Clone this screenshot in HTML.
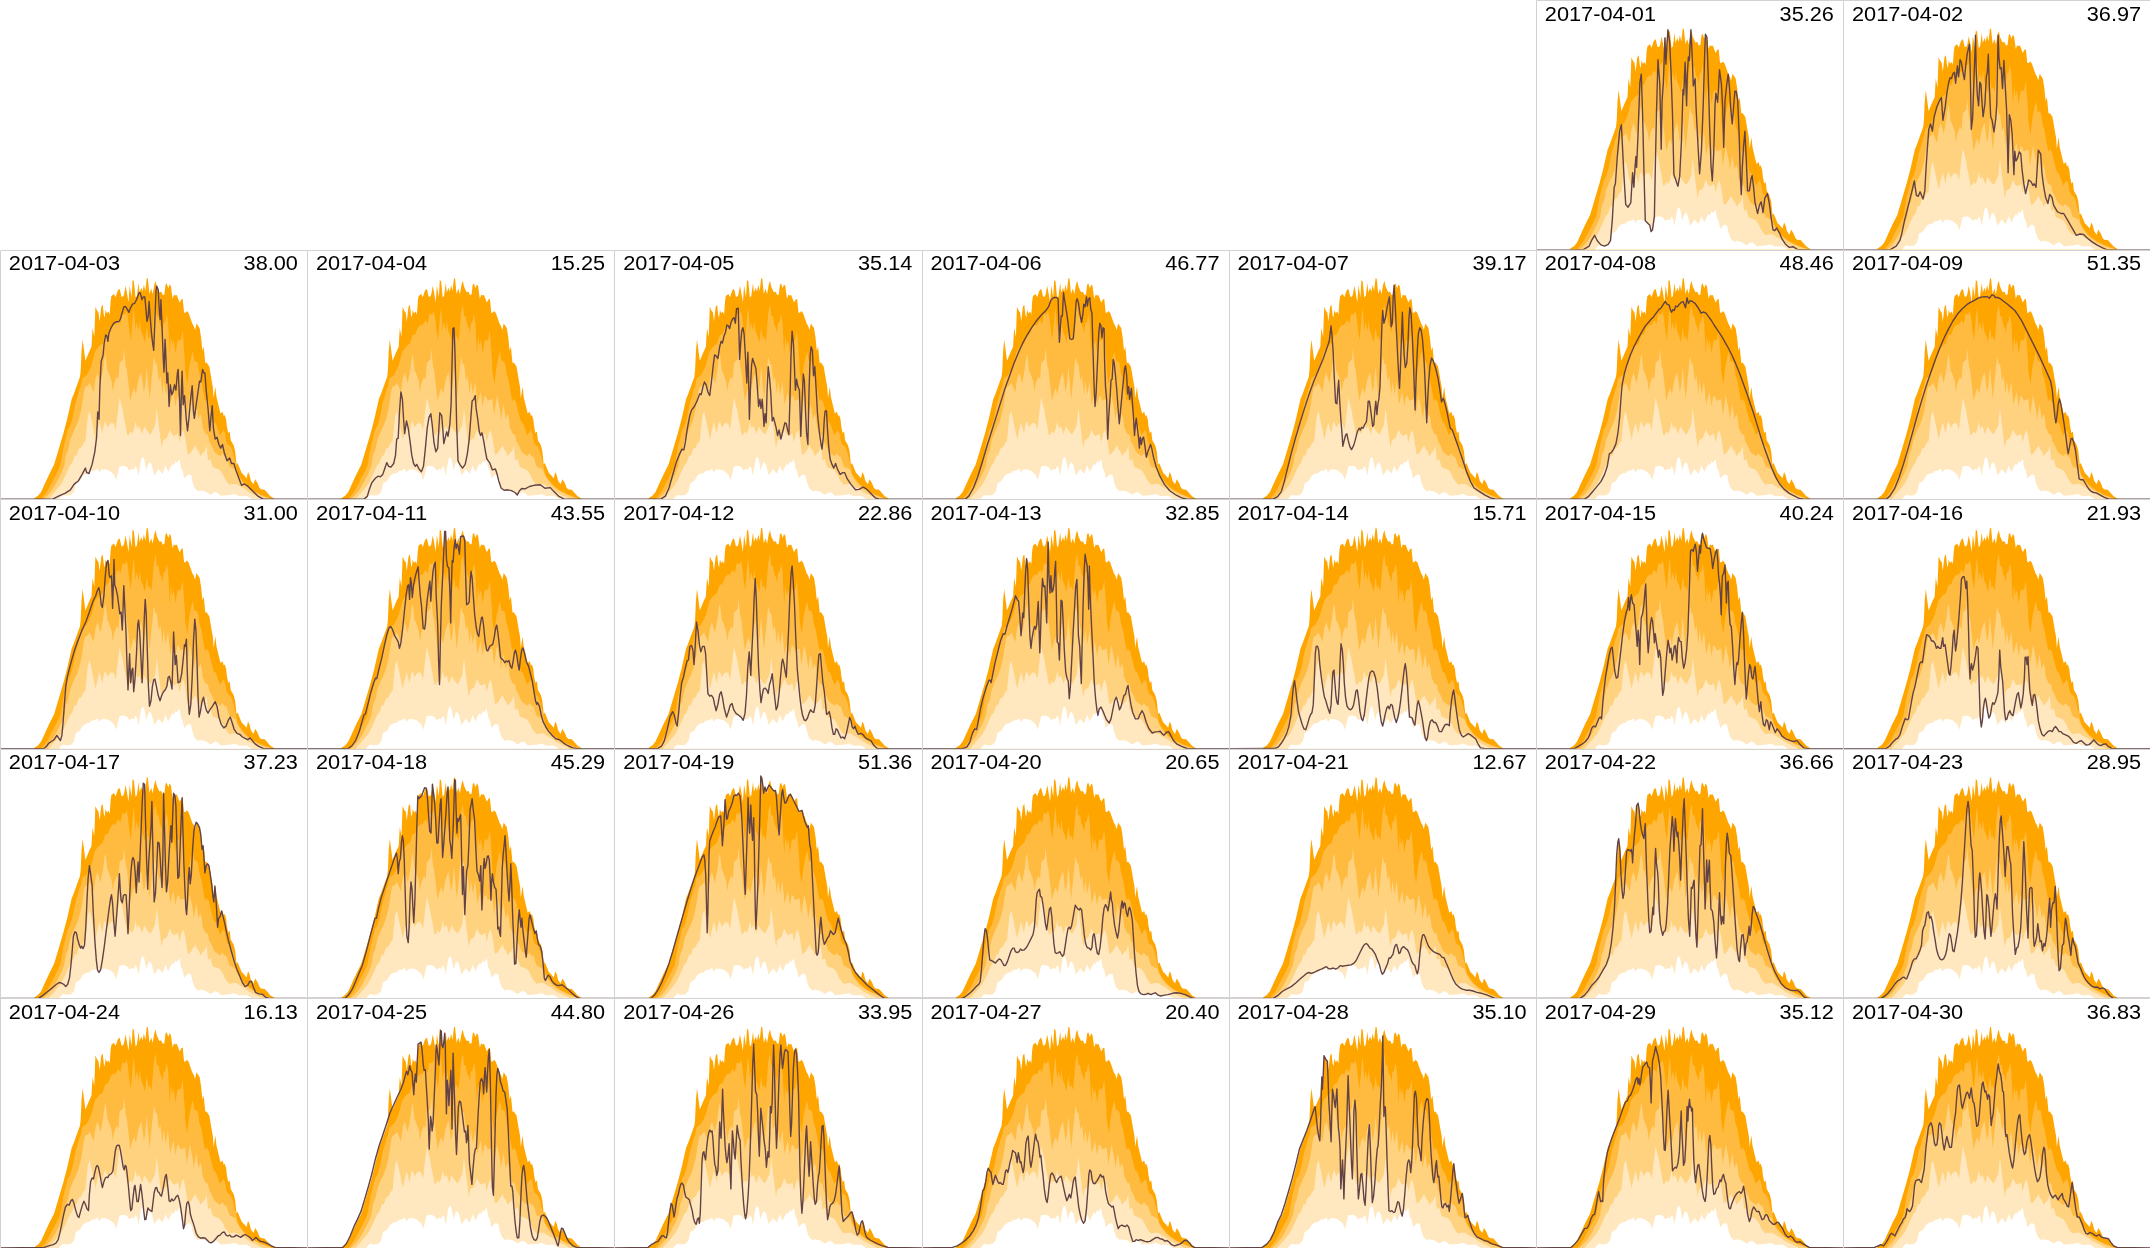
<!DOCTYPE html>
<html><head><meta charset="utf-8"><title>Daily profiles 2017-04</title>
<style>html,body{margin:0;padding:0;background:#fff}body{width:2150px;height:1248px;position:relative}svg{display:block;position:absolute;left:0;top:0}text{font-family:"Liberation Sans",sans-serif;font-size:20px;fill:#000}</style></head><body>
<svg width="2150" height="1248" viewBox="0 0 2150 1248">
<defs><clipPath id="cb"><rect x="0" y="0" width="307.2" height="249.6"/></clipPath><g id="bands">
<path d="M34.3,248.6 38.2,246 41.1,242.4 44.7,234.5 49,225.1 54.1,215 58.4,200.6 63.5,183.3 67.1,169.6 71.7,149.4 73.5,145.1 80,127.1 80.7,120.6 81.5,101.8 82.6,89.9 85.4,111.2 89.3,101.8 91.5,97.2 92.1,86 92.6,78.5 94.3,87.5 95.4,57.2 97.1,61.1 98.5,62.8 99.6,71.8 101.3,57.2 102.7,55.2 103.8,65.1 104.7,68.2 105.5,60.3 106.9,63.7 108.6,62 109.7,65.1 110.6,51.6 111.4,46.3 114,44.3 115.6,47.7 117.6,41.5 119,39.3 119.8,39.8 121.5,47.1 122.9,47.1 124,45.2 125.6,36.2 126.8,42.6 128.5,52.7 129.7,35.9 131.6,47.7 132.6,30.3 133.9,31.7 135.5,48 136.9,46.3 138.6,33.1 139.5,42.9 141.4,38.1 142.6,42.1 143.9,35.1 145.3,41.5 146.8,28.3 147.9,29.2 149.4,44.3 151.2,39 152.7,44.6 154.3,35.1 155.6,31.1 156.8,37 159.4,42.6 160.8,42.1 161.6,42.6 162.7,45.4 164.4,44.9 165.5,35.1 166.7,33.9 168.3,38.7 169.6,34.8 170.9,36.5 172.6,49.1 174,45.2 175.6,46 176.8,45.4 179.6,53 181.5,49.6 182.7,49.4 184.1,63.1 185.5,63.1 186.9,61.4 188.6,63.4 192.3,74 193.7,76.3 195.1,80.5 196.5,73.8 199.6,78.5 201.2,88.6 201.4,91 202.4,101.1 203.7,97.2 205.3,113.4 206.6,113 209.3,117 211.5,130 212.9,137.9 213.6,148.7 215.4,137.2 216.5,147.3 220.5,163.9 222.6,162.1 223.7,166.4 224.8,165.3 226.2,170.2 226.8,176.3 228.2,183.5 229.7,182 230.7,190.7 233.6,195.7 235.1,201.5 236.1,210.9 236.5,214.8 237.6,213.4 239.8,218.8 241.6,223.2 243.7,225.3 246.6,228.6 248,222.4 249.5,225.3 250.9,231.1 253.4,234.7 255.2,229.6 257.4,233.2 259.6,238.3 261,239.7 264.6,240.1 267.5,243.3 270.4,246.6 274,248.8 L275,251.6 L33.3,251.6Z" fill="#ffa500"/>
<path d="M41.8,248.6 45.3,244.3 48.1,240.2 50.9,234.6 53.2,230.3 57.4,222.3 60.2,216.3 62.2,205 63.8,196.2 65.4,190.2 67.8,180.2 70.2,176.3 72.6,168.2 74.2,160.2 75.8,152.2 77.8,146.2 79.2,140.2 80.7,137.2 82.1,129.2 86.5,125.6 89.3,120.6 91.5,115.5 95.1,101.8 99.4,96.4 102.7,94 104.4,88.3 105.5,85.5 108,85 110.6,78.2 113.7,74.9 115.3,76 116.8,72.6 118.7,70.7 120.4,74.3 122.3,64.2 124.9,65.1 126.6,61.4 128,68.7 129.4,81.6 130.8,90.6 132.2,73.8 133,64.8 133.8,58 134.7,68.7 135.5,81.6 136.7,72.6 138.9,81.6 139.7,70.1 141.1,81.6 143.1,86.1 144.8,92.8 146.8,77.7 148.4,88.9 149.6,86.7 151.5,91.7 152.6,79.4 153.8,64.2 154.9,58 155.7,55.5 156.8,66.5 158.5,66.8 159.9,74.9 161.6,78.2 162.7,83.3 163.6,73.8 165.3,72.3 166.7,64.2 168.1,72.6 168.9,88.3 169.8,105.2 170.9,86.1 172.3,96.2 173.7,90 175.6,104 177.3,91.7 178.7,90 179.8,91.7 181.2,88.9 182.7,81 183.8,96.8 184.9,111.9 185.1,120.6 187.3,135 189.1,118.4 190.9,109 192.7,101.8 194.5,111.9 196.7,111.6 198.1,114.8 199.2,123.5 201.4,130.7 203,140.2 204.4,148.1 205.2,152 206.3,149.2 208.8,152.3 210.2,158.7 212.2,166.6 213.9,172.2 215.9,173.8 217.8,179.5 220.1,185.6 221.8,182.8 223.7,180.3 225.1,183.9 226.2,190.7 227.6,194.6 230.7,196.8 233,203 234.7,210.2 235.8,213.7 236.8,219 237.9,224.3 240,227.8 242.1,230.7 244.9,234.2 247.8,237 250.6,239.1 253.4,241.2 256.9,243 260.5,244.8 264,246.2 267.5,247.6 271,248.6 L272,251.6 L40.8,251.6Z" fill="#ffbb40"/>
<path d="M44.2,248.8 48.1,245.2 50.9,241.8 53.7,237.9 56.5,233.2 57.8,230.2 61,224.3 64.2,216.3 65.8,205.8 68.2,200.2 69.8,192.2 70.2,190.2 72.6,184.3 74.2,180.3 75.8,177.5 78.6,170.3 81,161 82.3,153.4 83.1,148.2 84.3,140.2 85.4,137.2 87.9,136.1 89.7,133.2 91.5,137.2 93.7,142.9 95.5,129.2 97.6,123.1 98.7,127.1 100.5,133.9 103,120.6 104.5,108.3 105.6,104.7 107.4,121.3 108.5,122.8 110.3,127.8 111.7,132.1 112.8,142.2 114.2,133.6 116.8,127.1 118.5,130 119.6,113.4 121.8,111.2 123.2,109.8 124,98.6 125.8,117 126.8,119.9 128.7,136.5 130.4,151.2 132.6,142.2 134.1,138.3 135.9,144.4 138.4,130.7 141.3,122.4 143.8,142.2 145.2,136.5 146.7,117 149.6,150.2 151.4,132.1 153.9,106.9 155.7,114.8 156.8,114.1 158.9,131.4 160.4,126.4 162.6,145.1 163.6,131.4 165.8,145.1 168,131.8 170.1,155.2 173.4,142.2 175.5,156.7 177.3,146.6 178.8,146.6 180.6,151.2 185.2,149.4 186.9,166 189.8,145.5 192.7,160.3 193.8,169.8 196.3,154.5 198.5,169.8 200.3,164.4 201.7,169.1 202.6,177.7 205.5,184.2 208,185.3 209.1,191.4 212,196.5 214.1,201.9 217,204.4 220.3,206.6 222.4,203.7 224.2,206.6 226.4,207.3 227.3,210.2 228.4,213.7 229.8,217.6 230.8,217.3 233,218.7 235.8,220.1 237.2,224.3 239.3,228.5 241.4,231.4 244.2,234.9 247.1,237.7 249.9,239.8 253.4,241.9 256.9,243.7 260.5,245.5 264,246.9 267.5,248.1 270.3,248.8 L271.3,251.6 L43.2,251.6Z" fill="#ffd280"/>
<path d="M49,248.6 54.1,243.1 60.6,235.2 63.5,230.2 70,215.7 72.1,213.6 75,205.3 76.5,206.4 78.6,199.5 81.5,197.7 83,194.1 85.5,191.2 86.5,179.7 88,166 89.8,161.6 92.3,173.9 95.6,189.8 97.4,181.1 99.5,172.8 102.4,184 103.9,174.6 105.3,171.7 107.5,177.9 109.6,174.6 111.8,172.8 114,174.6 115.8,180.4 117.6,164.5 119.6,147.9 123,161.6 124.1,168.8 125.5,175.3 127.3,185.8 129.1,184.7 130.2,181.8 132.3,184 134.2,179.3 135.6,171.7 137,178.9 139.2,176.4 142.1,184.7 144.2,176.8 147.1,181.1 149.3,184 150.7,184.7 153.6,178.9 155.1,175.7 156.8,158.5 158.7,175.3 161.6,198.4 162.9,191.4 164.7,189.6 166.9,188.5 169.8,179.9 172.3,184.9 174.1,186.4 175.9,185.3 178.1,184.2 179.5,193.2 181.7,183.5 183.5,180.6 185.3,188.5 187.8,205.1 190.3,203.7 193.2,199.3 195.4,195.7 196.8,199.7 199,202.2 200.4,206.6 202.6,203.7 204.8,201.5 206.6,196.5 208,210.9 210.5,209.4 212.7,217.4 216.3,218.8 219.9,220.3 223.2,225.3 224.6,228.9 227.1,232.5 229.3,235.1 232.9,234.3 236.5,234.3 240.1,236.8 245.2,239.7 248.8,242.6 256,246.2 261.7,248.8 L262.7,251.6 L48,251.6Z" fill="#ffe8bf"/>
<path d="M59.5,248.6 62.8,245.3 66.4,246 70.7,245.7 73.9,242.4 75,238.1 75.7,233.8 80.1,231.2 82.2,227.3 83.7,225.5 87.3,223.7 89.4,223.7 91.2,221.5 95.2,220.8 97.7,219 99.2,222.9 101.3,220.1 104.6,219.7 108.9,220.8 114,224.8 116.1,230.5 117.9,223.7 119.4,217.2 121.2,216.5 124.8,216.5 127.3,217.9 129.1,220.8 132.3,219.3 133.8,220.1 135.6,216.5 137,218.6 138.5,226.2 141,210.7 142.4,207.1 144.2,209.2 146.4,220.8 148.2,214.3 150,212.5 151.8,215.7 154.3,225.8 158.6,219.5 162.6,224.2 165.5,215.9 168.3,222.4 170.5,217.4 172.7,213.8 173.8,215.9 175.6,211.6 177,213.1 179.5,209.4 181,218.1 182.8,221.7 184.2,228.9 186,226.8 188.5,224.6 191.1,225.7 192.5,232.5 194.7,238.7 198.3,241.9 200.1,240.8 205.5,241.9 210.5,245.2 215.2,242.3 217.8,243.3 220.6,246.2 224.2,245.9 230,245.5 234.3,244.4 239.4,246.6 246.6,246.2 250.9,248.8 L251.9,251.6 L58.5,251.6Z" fill="#ffffff"/>
</g></defs>
<rect width="2150" height="1248" fill="#fff"/>
<g transform="translate(1536,0)" clip-path="url(#cb)">
<use href="#bands"/>
<path d="M-2,249.6 47.7,249.4 53.2,246.1 55.9,239.8 58.6,235.3 61.3,240.7 64.9,244.9 68.6,246.1 72.2,244.3 74.5,240.7 76.3,219.9 78.2,187.3 79.4,183.7 81.2,158.3 83.6,131.1 85.4,124.8 86.7,151.1 87.9,174.6 89.7,204.5 92.1,207.2 94.8,202.7 96.6,172.8 97.9,187.3 99,167.4 99.9,156.5 100.6,167.4 102.1,133 103.9,82.2 105.3,74.1 106.6,114.8 107.9,169.2 109.3,220.8 112,223.5 113.8,225.3 115.1,231.6 116.5,229.8 118.4,216.3 119.3,169.2 120.5,111.2 122,59.6 123.8,84.1 125.2,149.3 126.1,100.4 127.4,82.2 128.9,37.9 129.9,64.1 131.9,29.7 133.7,42.4 135,71.4 136.5,114.8 137.9,174.6 139.2,178.2 141.9,186.4 143.7,176.4 145.5,140.2 147,89.5 147.7,94.9 149.1,62.3 150.6,105.8 151.3,75 152.4,56.9 153.3,60.5 154.9,29.7 156,51.5 157.3,85.9 159.1,78.6 160,105.8 161.8,142 163.6,173.7 165.4,151.1 167.2,105.8 168.7,53.3 169.4,34.3 170.9,37 172.3,78.6 173.6,125.7 175,165.5 176.3,180.9 177.8,151.1 179,105.8 179.9,93.1 181.7,102.2 183.5,69.6 185.4,84.1 186.6,105.8 187.7,147.4 189,100.4 190.8,84.1 192.2,74.1 193.5,87.7 194.8,109.4 196.2,123.9 197.7,105.8 198.9,91.3 200.2,91.3 201.7,100.4 203.1,133 204.4,178.2 205.3,194.5 206.2,169.2 207.5,147.4 208.9,131.1 210.3,160.1 211.6,190.9 213.4,190.9 215.2,178.2 216.1,175.5 217.6,187.3 218.9,201.8 221.6,213.5 223.4,205.4 225.2,201.8 227,212.6 228.8,198.1 231.5,193.6 233.3,203.6 235.2,218.1 237,229.8 238.8,230.7 240.6,228 243.3,232.6 246,238.9 249.6,244.3 253.3,247.4 256.9,246.7 261.4,249.4 309.2,249.6" fill="none" stroke="#624244" stroke-width="1.39" stroke-linejoin="round"/>
</g>
<g transform="translate(1843.2,0)" clip-path="url(#cb)">
<use href="#bands"/>
<path d="M-2,249.6 47.5,249.4 53,246.1 56.6,240.7 58.4,234.4 61.1,221.7 64.7,207.2 68.4,192.7 71.1,180.9 73.2,195.4 75.1,196.3 76.9,191.8 79.8,199.1 81.6,190.9 82.8,169.2 84.1,149.3 85.6,129.3 87.4,123.9 89.2,131.1 91,116.7 93.7,106.7 96.4,100.4 98.2,97.6 99.7,120.3 101.9,107.6 103.7,93.1 105.5,82.2 106.9,77.7 108.2,78.6 110,73.2 111.3,72.3 112.4,83.2 114.2,66 115.4,76.8 116.9,59.6 118.2,62.3 119.6,71.4 121.2,79.5 122.7,64.1 124.1,53.3 126.3,44.2 127.2,78.6 128.1,129.3 129.4,118.5 130.8,78.6 132.3,35.2 133,69.6 134.1,94.9 135.4,105.8 136.6,82.2 137.7,84.1 138.8,102.2 139.9,116.7 141.7,104 143.1,76.8 144.1,72.3 145.1,54.2 146.2,87.7 147.5,116.7 148.9,120.3 150.8,132 152.6,118.5 153.6,104 154.9,35.2 155.8,58.7 156.9,68.7 158,67.8 159.3,88.6 160.7,60.5 162,85.9 163.4,109.4 164.9,172.8 166.1,114.8 167.6,120.3 168.9,133 170.7,174.6 171.6,151.1 172.8,161 174.3,158.3 176.1,152 177.6,153.8 178.8,169.2 180.6,183.7 182.4,193.6 184.3,185.5 185.5,180 187.9,181.8 189.7,185.5 191,183.7 192.8,187.3 194.2,165.5 195.1,150.2 197.5,153.8 198.7,172.8 200.6,187.3 202.4,197.2 204.7,203.6 206.5,194.5 208.7,197.2 210.5,205.4 214.1,211.7 217.8,213.5 220.5,213.5 223.2,218.1 226.8,224.4 230.4,230.7 233.1,235.3 236.8,234 240.4,234.4 244,238 248.5,241.6 254,245.2 259.4,247.9 263,249.4 309.2,249.6" fill="none" stroke="#624244" stroke-width="1.39" stroke-linejoin="round"/>
</g>
<g transform="translate(0,249.6)" clip-path="url(#cb)">
<use href="#bands"/>
<path d="M-2,249.6 53.2,249.3 58.6,246.5 64.9,243.8 70.4,240.2 74,234.8 78.5,231.1 82.1,224.8 85.4,218.5 86.7,223 89,223.9 92.1,214.8 94.8,202.2 96.6,187.7 97.7,162.3 99,169.6 99.9,137 101.2,111.6 103,106.2 104.2,93.5 105.7,85.4 106.9,86.3 107.9,91.7 108.9,83.6 111.1,78.1 113.8,73.6 116.5,72.1 118.7,72.1 120.2,70 122,63.6 123.8,57.3 125.6,56.9 127.4,60 128.9,62.7 130.1,59.1 132.5,54.6 134.7,53.7 136.5,50.1 139.2,42.8 140.4,43.7 141.9,50.1 143.3,47.3 144.8,47.3 145.9,59.1 147,71.8 148.2,66.4 149.1,51.9 150.2,68.2 151.3,80.8 152.4,91.7 153.7,100.8 154.9,70 156,41.9 156.7,36.5 158.2,40.1 159.3,60.9 160.2,70 160.9,50.1 161.8,71.8 163.3,109.8 164,122.5 165.1,89.9 166,109.8 166.9,133.4 167.8,123.4 169.1,156.9 170.3,135.2 171.8,145.1 173,142.4 174.5,135.2 175.9,140.6 177.4,123.4 178.1,119.8 179.6,151.5 180.5,185.9 181.4,142.4 182.1,121.6 183.2,155.1 184.5,146 186.3,169.6 187.5,181.3 189,167.8 190.4,151.5 192.2,136.1 193.5,162.3 194.4,168.7 196.2,155.1 198,142.4 199.5,131.5 200.8,132.4 202.6,119.8 203.8,123.4 204.9,123.4 206.2,140.6 208,158.7 209.8,181.3 211.1,166 212.2,156 213.4,178.6 215.2,189.5 217,187.7 218.9,194.9 220.7,198.5 222.5,194.9 224.3,203.1 227,211.2 229.7,208.5 231.5,213.9 233.9,213.9 236.1,221.2 238.8,228.4 241.5,235.7 244.2,234.4 247.8,236.6 252.4,241.1 257.8,246.5 263.2,249.6 309.2,249.6" fill="none" stroke="#624244" stroke-width="1.39" stroke-linejoin="round"/>
</g>
<g transform="translate(307.2,249.6)" clip-path="url(#cb)">
<use href="#bands"/>
<path d="M-2,249.6 56.6,249.6 60.2,246.5 62,240.2 64.7,233 68.4,228.4 71.1,226.6 73.2,227.2 75.6,224.8 77.4,219.4 79.6,213 81.4,216.7 83.7,217.6 86.5,213.9 88.3,205.8 89.5,189.5 91,188.6 92.3,162.3 93.7,142.4 95.2,149.7 96.4,169.6 97.5,184.1 99.3,171.4 101,178.6 102.8,191.3 104.6,205.8 106.4,213.9 108.2,216.7 109.6,214.8 111.8,219.4 114.2,222.1 116.3,216.7 118.2,198.5 120,178.6 121.8,167.8 123.6,164.1 125,175 126.8,193.1 128.7,202.2 130.5,198.5 131.7,178.6 132.6,163.2 134.5,166 135.7,180.4 136.6,194 138.1,187.7 139.5,182.2 140.8,186.8 142.6,175 143.9,155.1 144.8,115.2 145.7,79 146.8,78.1 147.7,100.8 148.6,137 149.5,176.8 150.8,211.2 152.6,214.8 155.3,218.5 158,214.8 160.2,204 162,189.5 163.4,171.4 164.9,151.5 166.7,149.7 168,146 168.9,158.7 170.3,167.8 172.1,182.2 173.4,185.9 174.8,183.2 176.5,191.3 178.3,202.2 179.7,209.4 182.4,213 185.2,220.3 188.2,219.4 189.7,223.9 191.5,231.1 193.9,238.4 196.9,240.6 200.6,240.2 204.2,241.1 207.8,242.9 210.1,245.3 212.3,241.1 214.5,238.9 217.8,239.3 222.3,236.9 226.8,235.7 233.1,235.1 237.7,238.7 243.1,238 246.7,242 251.3,246.5 256.7,249.3 261.2,249.6 309.2,249.6" fill="none" stroke="#624244" stroke-width="1.39" stroke-linejoin="round"/>
</g>
<g transform="translate(614.4,249.6)" clip-path="url(#cb)">
<use href="#bands"/>
<path d="M-2,249.6 46.4,249.6 51,246.5 54.6,238.4 58.2,225.7 61.8,213 65.4,204 67.6,199.5 69.4,200.4 70.9,193.1 73,178.6 75.4,166 77.2,160.5 79.9,156.9 82.6,151.5 85.4,144.2 86.8,145.1 88.6,137 90.1,132.4 91.7,135.2 93.5,142.4 95.3,146 97.1,131.5 98.9,115.2 100.2,105.3 101.7,106.2 103.5,108.9 105.3,97.1 106.7,91.7 108,93.5 109.4,87.2 111.1,82.6 112.5,75.4 114,76.3 115.2,79 116.7,72.7 118.3,69.1 119.8,68.2 121,73.6 122.1,59.1 123.8,58.7 124.7,88.1 125.2,109.8 126.3,93.5 127.4,80.8 128.5,78.1 129.7,84.5 131,106.2 132.4,133.4 133.5,102.6 134.3,133.4 135,169.6 136.1,137 137.2,115.2 138.2,108.9 139.7,113.4 141.5,118.9 142.9,137 144.2,156.9 145.5,149.7 146.6,158.7 147.8,149.7 148.7,162.3 149.6,176.8 150.6,164.1 151.8,173.2 152.7,140.6 153.8,117.1 155.1,127.9 156.3,142.4 157.8,171.4 159.1,167.8 160.5,173.2 161.8,178.6 163.2,185.9 164.7,180.4 166.5,189.5 168.7,180.4 170.5,173.2 171.9,174.1 173.2,180.4 174.5,185 175.5,151.5 176.6,106.2 177.7,81.7 179,93.5 180.1,118.9 181,140.6 182.2,129.7 183.5,137 185,140.6 186.4,186.8 187.7,151.5 188.9,124.3 190,131.5 191.1,160.5 192.2,184.1 193.5,194.9 194.6,142.4 195.8,106.2 196.7,97.1 198,100.8 199.1,126.1 200.4,117.1 201.6,137 203.1,164.1 204.9,182.2 206.7,194.9 207.6,199.5 208.9,187.7 209.9,169.6 210.7,161.4 212.1,161.4 213,178.6 214.3,196.7 215.7,209.4 217.6,214.8 219.4,218.5 221.2,213.9 223,219.4 225.7,224.8 228.4,223 230.2,223 232.9,229.3 236.6,234.8 241.1,240.2 244.7,239.8 248.7,237.5 252,239.3 256.5,243.8 261,248.3 264.6,249.6 309.2,249.6" fill="none" stroke="#624244" stroke-width="1.39" stroke-linejoin="round"/>
</g>
<g transform="translate(921.6,249.6)" clip-path="url(#cb)">
<use href="#bands"/>
<path d="M-2,249.6 43.6,249.6 47.2,246.5 51.8,238.4 56.3,226.6 60.8,212.1 65.3,196.7 69.9,182.2 74.4,167.8 78.9,153.3 83.4,138.8 88,126.1 92.5,113.4 97,102.6 101.6,92.6 106.1,84.5 110.6,77.2 115.1,70.9 119.7,65.4 124.2,60.9 126.9,57.3 128.2,53.7 129.6,50.1 132.3,47.9 135.1,47.9 136.5,49.1 137.2,71.8 137.8,92.6 138.7,79 139.6,66.4 140.8,66.4 141.9,42.8 143.2,51.9 145,62.7 146.5,73.6 148.1,89 149.9,89.9 151.7,89 153.2,71.8 154.6,51.9 155.5,49.1 156.8,52.8 158.2,63.6 159.9,72.7 161.3,64.5 162.2,54.6 163.5,57.3 164.9,47.3 165.8,56.4 166.7,50.1 168.2,48.2 169.1,59.1 170.4,63.6 171.3,97.1 172.4,133.4 173.4,156.9 174.5,144.2 175.8,115.2 177.1,84.5 178.2,73.6 179.4,76.3 180.3,88.1 181.4,78.1 182.5,79 183,111.6 183.9,137 185,149.7 186.1,189.5 187.2,166 188.5,147.8 189.4,130.6 190.5,129.7 191.6,109.8 192.6,113.4 193.9,126.1 195.2,140.6 196.6,160.5 197.7,174.1 198.8,162.3 200.2,147.8 201.7,131.5 203,118.9 203.9,116.2 205.1,126.1 206,144.2 207.1,137 208,149.7 208.9,144.2 209.8,138.8 210.7,151.5 211.8,166 212.9,185.9 214,173.2 214.7,168.7 215.8,178.6 216.9,187.7 217.8,198.5 218.7,187.7 219.8,194.9 220.9,188.6 222,187.7 223.4,196.7 224.7,207.6 226.5,201.3 228.9,194.9 230.1,198.5 231.9,207.6 234.7,217.6 238.3,226.6 242.8,234.8 248.2,241.1 254.6,245.6 260,248.3 265.4,249.6 309.2,249.6" fill="none" stroke="#624244" stroke-width="1.39" stroke-linejoin="round"/>
</g>
<g transform="translate(1228.8,249.6)" clip-path="url(#cb)">
<use href="#bands"/>
<path d="M-2,249.6 44.3,249.6 48.8,247.1 52.5,242 55.2,233 58.8,218.5 62.4,204 66.9,187.7 71.5,172.3 76,157.8 80.5,144.2 85.1,131.5 89.6,120.7 94.1,109.8 98.6,97.1 100.4,91.7 102.3,76.3 103.2,86.3 104.4,102.6 105.5,127.9 106.8,153.3 108.1,154.2 109,140.6 109.9,130.6 111,153.3 112.2,171.4 113.5,187.7 114,196.7 115.3,191.3 116.7,185.9 118,184.1 119.5,191.3 121.3,197.6 122.7,200 124.9,195.8 126.7,189.5 128.5,182.2 130.3,178.6 131.6,180.4 132.7,177.7 134.3,178.6 135.8,175 137.6,172.3 138.5,164.1 139.4,151.5 140.6,151.5 141.7,158.7 143,169.6 143.9,176.8 145,175 146.1,160.5 147,151.5 148.1,165 149,155.1 150.2,148.7 151.2,137 152.1,106.2 153,79 153.9,60.9 155.1,73.6 156.6,68.2 158.4,57.3 160.6,47.3 161.7,64.5 162.4,77.2 163.5,73.6 164.4,46.4 165.3,35.6 166.4,55.5 167.5,79 168.7,102.6 169.8,124.3 170.7,138.8 171.6,118.9 172.5,93.5 173.6,62.7 174.3,84.5 175.4,106.2 176.5,118 178,113.4 179.2,93.5 180.1,70 181,58.2 182.3,64.5 183.4,84.5 184.7,115.2 185.6,140.6 186.3,160.5 187.4,126.1 188.5,100.8 189.5,84.5 191,78.1 192.4,80.8 193.7,89.9 195,106.2 196.1,127.9 197,151.5 197.9,173.2 198.8,151.5 200,129.7 201.3,115.2 202.8,108.4 204.6,111.6 206.9,118.9 209.1,127.9 210.9,138.8 212.7,152.4 214.5,148.7 216,153.3 218.2,162.3 219.6,169.6 221.4,178.6 223.6,180.4 225.4,185.9 228.1,193.1 230.8,201.3 234.5,212.1 238.1,223 241.7,232 245.3,238.4 250.8,242 256.2,245.6 261.6,248.3 267,249.6 309.2,249.6" fill="none" stroke="#624244" stroke-width="1.39" stroke-linejoin="round"/>
</g>
<g transform="translate(1536,249.6)" clip-path="url(#cb)">
<use href="#bands"/>
<path d="M-2,249.6 48.6,249.6 52.3,247.1 55.9,242.9 60.4,237.5 64.9,232 68.6,224.8 71.3,216.7 73.4,204 75.3,203.1 77.6,199.5 80,194 82.1,182.2 83.6,167.8 84.9,149.7 86.1,135.2 88.5,123.4 91.2,114.3 94.8,104.4 98.4,96.2 102.1,89 105.7,82.6 109.3,76.3 112.6,72.7 114.7,70 117.5,67.3 120.2,63.6 122.9,60 125.2,58.2 127.4,54.6 129.2,51.9 131,54.6 133.2,55.5 134.3,60 135.6,62.7 136.8,60 138.3,60.9 139.7,56.4 141.5,57.3 143.3,54.6 145.2,52.8 147,51.9 148.2,54.6 149.5,58.2 151,48.2 152.4,53.7 154.2,51 156.4,51.9 159.1,53.7 160.9,56.4 162.7,59.1 165.1,63.6 167.2,62.4 170,63.6 172.7,67.3 175.4,70.9 178.1,75.4 181.7,80.8 185.4,86.3 189,92.6 192.6,98.9 196.2,106.2 199.8,114.3 203.5,123.4 207.1,133.4 210.7,143.3 214.3,154.2 218,165 221.6,176.8 225.2,188.6 228.8,199.5 232.4,209.4 236.1,219.4 239.7,227.5 243.3,233.9 247.8,239.3 253.3,243.8 258.7,246.5 263.2,248.9 267.8,249.6 309.2,249.6" fill="none" stroke="#624244" stroke-width="1.39" stroke-linejoin="round"/>
</g>
<g transform="translate(1843.2,249.6)" clip-path="url(#cb)">
<use href="#bands"/>
<path d="M-2,249.6 43,249.6 46.6,246.5 51.2,239.3 55.7,228.4 60.2,214.8 64.7,199.5 69.3,183.2 73.8,166.9 78.3,151.5 82.8,137 87.4,123.4 91.9,110.7 96.4,98.9 101,88.1 105.5,79 110,70.9 114.5,64.2 119.1,59.1 123.6,55.1 127.2,52.8 130.8,51 134.5,48.8 138.1,47.5 141.7,47 144.4,47.3 146.2,48.6 147.5,46.8 148.9,45.2 150.8,46.1 152,47.9 154.4,47.9 157.1,49.1 160.7,51.9 164.3,54.6 168,57.8 171.6,60.9 175.2,66 178.8,71.8 182.4,79 186.1,86.3 189.7,93.5 193.3,100.8 196.9,108 200.6,116.2 204.2,124.3 207.4,131.5 209.1,140.6 210.5,155.1 211.8,167.8 212.7,173.2 213.8,166 215,155.1 216.3,149.3 217.8,155.1 219.2,164.1 221,175 222.8,187.7 224.1,198.5 225,204 226.4,196.7 227.7,189.5 229,188.6 230.4,192.2 232.2,200.4 234.1,214.8 235.9,229.3 238,230.2 240,230.2 242.2,233.9 244.9,238.4 247.6,241.6 250.4,242.9 253.1,243.3 256.7,245.3 261.2,247.8 265.7,249.6 309.2,249.6" fill="none" stroke="#624244" stroke-width="1.39" stroke-linejoin="round"/>
</g>
<g transform="translate(0,499.2)" clip-path="url(#cb)">
<use href="#bands"/>
<path d="M-2,249.6 44.1,249.2 46.8,246.8 48.6,244.1 51.4,242.3 54.1,240.5 56.8,236.3 58.6,238.7 60.4,241.4 61.9,236 63.1,223.3 64.4,205.2 65.8,187.1 67.3,178 69.5,169 72.2,159 74.9,150 78.5,140 82.1,130.9 85.8,122.8 89.4,112.8 93,102 95.7,96.5 97.5,91.1 98.8,88.4 99.9,92.9 101.2,105.6 102.4,108.3 103.9,96.5 105.3,76.6 106.6,63.9 108,61.2 109.3,76.6 110.4,78.4 111.5,76.6 112.6,109.2 113.5,78.4 114,60.3 114.7,85.7 116,89.3 117.5,96.5 118.7,105.6 119.8,114.6 121.1,112.8 122.3,130.9 123.2,105.6 123.8,86.6 124.7,105.6 126,132.8 127,165.4 128,190.7 128.9,169 129.6,154.5 130.7,183.5 131.9,170.8 132.8,169 133.7,192.5 135,179.8 136.5,154.5 137.7,125.5 138.6,121 139.7,132.8 141,159.9 142.1,183.5 143.3,150.9 144.3,118.3 145.2,100.2 146.2,114.6 147.3,150.9 148.4,187.1 149.5,207 151,201.6 152.4,187.1 153.7,180.7 154.9,179.8 156.4,187.1 158.2,196.1 160,201.6 161.8,196.1 163.6,192.5 165.4,190.3 166.9,187.1 168.2,178 169.4,177.1 170.9,183.5 172,189.8 172.9,159.9 173.6,132.8 174.5,150.9 175.2,165.4 176.3,156.3 177.2,169 178.1,183.5 179.9,182.6 181.7,174.4 183.2,159.9 184.5,145.4 185.4,147.2 186.4,140 187.2,169 188.1,197.9 189.3,215.1 190.8,205.2 192.2,178 193.5,141.8 194.8,120.1 195.9,130.9 196.9,159.9 198,196.1 199.1,217.9 200.4,212.4 202,202.5 203.5,197.9 204.9,205.2 206.2,210.6 208,213.9 209.8,210.6 212.5,207 215.2,202.5 217,207 218.9,217.9 221.2,225.1 223.8,228.7 226.1,226.9 228.5,220.6 230.3,217.9 232.1,223.3 234.3,230.5 237,234.2 239.7,235.1 242.4,237.8 245.1,239.2 247.8,240.5 250,238.7 252.4,241.4 255.1,244.7 258.7,247.2 263.2,249.2 309.2,249.6" fill="none" stroke="#624244" stroke-width="1.39" stroke-linejoin="round"/>
</g>
<g transform="translate(307.2,499.2)" clip-path="url(#cb)">
<use href="#bands"/>
<path d="M-2,249.6 41.2,249.2 44.8,246.5 48.4,241.4 52.1,232.4 54.8,222.4 56.6,216.1 58.4,214.2 61.1,203.4 63.8,192.5 66.5,183.5 68.4,178.9 69.6,179.5 72,169 74.7,158.1 77.4,145.4 79.6,135.5 81.6,129.1 83.4,127.3 85.2,130 87.4,136.4 89.5,140 91,142.7 92.3,149.1 93.7,143.6 95.5,129.1 97.3,111 99.1,94.7 100.4,86.6 101.5,85.7 102.4,100.2 103.3,78.4 104.2,83.9 105.1,98.3 106.4,85.7 108.2,76.6 109.6,72.1 110.9,67.6 111.8,80.2 113.1,96.5 114.2,105.6 115.3,120.1 116,129.1 117.3,130 118.2,125.5 119.2,109.2 120.3,98.3 121.8,87.5 122.7,82 123.6,102 124.5,87.5 125.8,72.1 127.2,64.8 128.1,63 129,96.5 130.5,125.5 131.4,161.7 132.3,185.3 133,150.9 134.1,105.6 135.4,78.4 136.6,51.3 137.5,32.2 138.4,32.2 139.3,60.3 140.4,67.6 141.7,68.5 142.8,96.5 143.5,123.7 144.2,85.7 145,61.2 145.9,63 146.8,49.5 148,40.4 148.9,49.5 150,44.9 151.1,47.6 152.2,54.9 153.3,37.7 154.7,36.8 156.5,37.1 157.6,42.2 158.5,78.4 159.4,105.6 160.7,104.7 162,102.9 162.9,83.9 163.8,72.1 164.9,78.4 166.1,96.5 167.4,114.6 168.9,127.3 170.3,134.6 171.6,137.3 172.8,127.3 174.3,118.3 175.2,117.9 176.5,127.3 177.9,141.8 179.4,150.9 180.6,151.8 182.4,147.2 184.3,145.8 185.5,145.4 187,138.2 188.4,129.1 189.5,125.9 190.6,132.8 191.9,143.6 193.3,158.1 194.6,159.9 196,160.8 197.5,163.5 198.9,161.7 200.6,162.6 201.8,161.4 203.3,167.2 204.7,169 206,161.7 207.3,152.7 208.3,150.9 209.6,156.3 210.9,165.4 212,170.8 213.2,159.9 214.5,150.9 215.9,148.7 217.4,154.5 219.2,162.6 221.4,167.2 223.2,174.4 225,181.6 226.8,192.5 228.3,201.6 229.5,205.2 230.4,203.4 232.2,207 234.1,216.1 235.9,222.4 238.6,227.8 241.3,232 244.9,236 248.5,239.6 252.2,240.5 256.7,244.1 261.2,246.8 265.7,248.7 269.4,249.2 309.2,249.6" fill="none" stroke="#624244" stroke-width="1.39" stroke-linejoin="round"/>
</g>
<g transform="translate(614.4,499.2)" clip-path="url(#cb)">
<use href="#bands"/>
<path d="M-2,249.6 43.7,249.2 47.3,246.8 50,241.4 52.8,230.5 55.5,217.9 58.2,212.4 60,216.1 61.5,223.3 62.7,226.9 64.2,214.2 65.8,196.1 67.3,183.5 69.1,178 70.9,169 72.7,161.7 74.1,160.8 75.4,147.2 77.2,146.3 78.5,150.9 79.6,165.4 80.8,147.2 82.1,122.8 83.5,130.9 85,145.4 86.4,152.7 88.1,147.2 89.9,147.2 91.2,154.5 92.2,172.6 93.5,194.3 95.3,197 97.1,196.1 98.9,198.9 100.2,205.2 101.7,211.5 103.5,205.2 105.3,195.2 106.7,192.5 108,197.9 109.8,208.8 112.2,217.9 114,212.4 115.8,206.1 117.6,204.3 119.4,210.6 121.6,214.2 124.3,216.1 126.6,217.9 128.8,221.1 130.6,214.2 132.1,196.1 133.3,169 134.8,152.7 135.7,165.4 136.4,176.2 137.5,150.9 138.8,125.5 139.7,100.2 140.8,79.3 141.9,100.2 142.9,132.8 144.2,169 145.5,190.7 146.6,203.4 147.8,196.1 149.1,189.8 150.6,188.9 152.4,190.7 153.8,194.3 155.1,185.3 156.3,181.6 157.8,174.4 159.1,187.1 160.5,199.8 161.8,210.6 163.2,207 164.7,194.3 166.1,178 167.4,163.5 168.3,159.9 169.6,165.4 170.8,172.6 171.9,178 172.8,159.9 174.1,132.8 175.5,96.5 176.8,73 177.7,66.7 178.8,82 180.1,105.6 181.3,136.4 182.8,169 184.1,183.5 185.5,197.9 186.8,208.8 188.2,216.1 189.7,220.6 191.3,221.5 193.1,218.8 194.6,214.2 196.2,210.6 197.6,212.4 199.4,213.3 200.9,205.2 202.2,187.1 203.4,169 204.5,155.4 206,154.5 207.2,169 208.5,183.5 209.9,192.5 211.2,205.2 212.1,215.1 213.6,214.2 214.8,212.4 216.1,217.9 217.6,228.7 219,235.1 220.3,235.1 221.7,229.6 223,230.5 224.8,235.1 226.6,238.7 228.4,237.8 230.2,239.6 232,234.2 233.9,225.1 235.3,218.2 236.6,221.5 237.8,227.8 239.3,229.6 240.6,226.9 242,231.4 243.8,235.1 246.2,234.2 248.3,235.1 251.1,238.7 254.1,240.5 256.5,241.4 259.2,245.9 262.8,249.2 309.2,249.6" fill="none" stroke="#624244" stroke-width="1.39" stroke-linejoin="round"/>
</g>
<g transform="translate(921.6,499.2)" clip-path="url(#cb)">
<use href="#bands"/>
<path d="M-2,249.6 41.8,249.2 45.4,247.7 48.1,243.2 50.8,234.2 53.2,229.6 55,230.5 56.8,221.5 59,208.8 61.7,197.9 64.4,188.9 67.1,181.6 68.4,180.7 69.5,183.5 71.3,174.4 73.5,163.5 76.2,152.7 78.9,141.8 81.6,134.6 83.4,134.9 85.3,127.3 88,118.3 90.7,109.2 93,100.2 93.9,96.5 95.6,100.2 97,102 98.3,118.3 99.4,136.4 100.3,125.5 101.2,113.7 102.1,118.3 103,96.5 103.9,74.8 105,59.4 106.1,71.2 107.2,105.6 108.3,136.4 109.3,149.1 110.6,138.2 111.9,130.9 113,127.3 114,130 115.1,125.5 116,111 116.6,102.3 117.3,123.7 118.2,153.6 119.1,129.1 120,96.5 120.9,79.3 122,87.5 123.3,86.6 124.2,103.8 125.1,123.7 125.8,78.4 126.5,43.1 127.4,76.6 128.4,93.8 129.3,76.6 130.3,92.9 131.4,91.1 132.5,83.9 133.2,71.2 134,62.1 134.7,96.5 135.6,142.7 136.9,144.5 137.8,160.8 138.7,132.8 139.4,101.1 140.5,102 141.6,123.7 142.7,150.9 144.1,172.6 145.6,179.8 146.6,181.6 147.7,199.4 148.8,187.1 150.1,161.7 151.4,136.4 152.8,111 154.1,87.5 155.3,80.2 156.1,105.6 156.8,136.4 158.1,147.2 159,169 159.7,184.4 160.4,150.9 161.5,105.6 162.6,71.2 163.5,54.9 164.6,62.1 165.5,65.8 166.4,83.9 167.1,110.1 167.7,66.7 168.6,96.5 169.8,123.7 171.3,154.5 172.7,183.5 174,199.8 175.3,210.6 176.3,216.1 177.6,209.7 179.4,207.9 181.2,211.5 183,216.1 184.9,220.6 187.6,223.8 189.4,219.7 191.2,210.6 193,201.6 194.8,197.9 196.3,203.4 197.9,210.6 199.3,207.9 201.2,200.7 202.4,196.1 203.9,195.2 205.3,188.9 206.4,186.2 207.5,194.3 209.3,205.2 211.1,213.3 213.8,219.7 216.5,219.7 218.4,215.1 220.5,211.5 222.3,215.1 224.7,223.3 227.4,229.6 230.7,233.8 233.7,232.7 236.5,232.4 238.6,232 241,235.1 242.3,236 244.6,233.3 247,232.4 249.1,236 251.9,241.4 255.5,245 260,247.2 265.4,249.2 309.2,249.6" fill="none" stroke="#624244" stroke-width="1.39" stroke-linejoin="round"/>
</g>
<g transform="translate(1228.8,499.2)" clip-path="url(#cb)">
<use href="#bands"/>
<path d="M-2,249.6 46.1,249.2 49.7,247.7 52.5,244.1 55.2,239.6 57.9,234.2 60.2,226.9 62.1,216.1 63.3,201.6 64.6,187.1 65.7,181.6 66.8,188.9 68.2,201.6 69.7,212.4 71.5,218.8 73.3,225.1 75.1,229.6 76.9,230.5 78.7,225.1 80.2,219.7 81.4,216.1 83.2,213.3 84.5,205.2 85.6,178 86.5,154.5 87.4,147.2 88.7,146.9 89.9,150.9 91,165.4 92.5,178 94.1,188.9 95.4,197 96.8,200.7 98.3,206.1 99.7,210.6 101,214.2 102.3,205.2 103.2,187.1 104.1,172.6 105.2,170.8 106.1,183.5 107.1,196.1 108.2,203.4 109.3,205.2 110.4,187.1 111.3,161.7 112.2,144.5 113.5,150.9 114.6,165.4 115.5,183.5 116.7,197.9 118.2,207 120,209.7 121.8,210.6 123.6,208.8 124.9,205.2 126.2,197.9 127.2,191.6 128.5,190.7 129.8,199.8 131.2,212.4 132.7,219.7 133.9,221.5 135.4,216.1 137,203.4 138.5,190.7 139.9,179.8 141.4,173.5 143,171.7 144.8,172.6 146.6,178 148.4,188.9 149.9,201.6 151.2,214.2 152.6,223.3 153.9,226.9 155.1,221.5 156.6,214.2 158,208.8 159.3,207 160.6,209.7 162,205.2 163.5,206.1 164.7,212.4 166,218.8 167.5,223.3 168.9,218.8 170.3,212.4 171.6,203.4 172.9,192.5 174.3,179.8 175.6,169 176.5,164.4 177.6,172.6 178.7,187.1 179.8,205.2 180.7,217.9 181.9,217.9 183.4,218.8 184.7,223.3 186.1,226 187.4,214.2 188.5,205.2 189.5,201.6 191,207 192.4,214.2 193.7,221.5 195,230.5 196.4,238.7 197.7,241.4 198.8,237.8 200,228.7 201.5,222.4 203.3,220.6 205.1,223.3 206.9,223.3 208.7,226.9 210.5,232.4 212.7,232.4 214.5,228.7 216.3,225.5 218.5,225.1 220.5,226.6 221.4,214.2 222.7,201.6 224,193.4 224.9,190.7 225.9,197.9 227.2,208.8 228.7,219.7 230.5,230.5 232.6,236 234.5,237.8 237.2,236 239.5,234.5 241.7,235.6 244.4,237.8 246.8,239.6 248.9,244.1 251.7,248.7 255.3,249.2 309.2,249.6" fill="none" stroke="#624244" stroke-width="1.39" stroke-linejoin="round"/>
</g>
<g transform="translate(1536,499.2)" clip-path="url(#cb)">
<use href="#bands"/>
<path d="M-2,249.6 38.7,249.2 42.3,247.2 45.9,245 49.5,242.3 52.3,238.7 54.1,234.2 55.9,228.7 57.7,226.9 59.5,227.8 61.3,223.3 63.1,218.8 64.4,217.9 65.5,219.7 66.7,205.2 68,190.7 69.5,178 71.3,167.2 73.1,156.3 74.9,149.1 76.3,148.1 77.6,161.7 78.9,172.6 80.3,178.9 81.8,178 83,167.2 84.9,150.9 86.7,134.6 88.5,121.9 90.3,112.8 91.6,109.2 92.6,98.3 93.5,111 94.5,100.2 95.4,95.6 96.6,103.8 98.1,105.6 99,118.3 100.2,132.8 101.2,147.2 102.1,130.9 103,141.8 103.7,165.4 104.4,136.4 105.3,118.3 106.6,114.6 107.9,105.6 108.9,92.9 109.7,84.8 110.4,105.6 111.1,132.8 112.2,153.6 113.3,140 114.4,125.5 115.5,118.3 116.5,121.9 117.6,132.8 118.4,143.6 119.3,134.6 120.2,141.8 121.6,150.9 122.5,158.1 123.4,150.9 124.7,158.1 125.6,178 126.7,196.1 127.8,190.7 129.2,172.6 130.7,154.5 132.1,140.9 133.2,147.2 133.9,153.6 135,149.1 136.1,160.8 137.4,154.5 138.3,147.2 139.2,146.3 140.1,154.5 140.8,163.5 141.5,147.2 142.6,138.2 143.7,141.8 145.2,142.7 146.2,158.1 147.7,169 149.1,163.5 150.6,150.9 151.9,132.8 152.8,105.6 153.7,78.4 154.6,51.3 156,50.4 157.3,52.2 158.4,47.6 159.3,44.9 160.4,53.1 161.5,72.1 162.5,60.3 163.6,46.7 164.5,54 165.4,40.4 166.5,34.1 167.6,39.5 169.1,44 170.5,48.5 172.3,49.1 174.1,49.5 175.4,56.7 176.7,69.4 178.1,60.3 179.6,53.1 180.8,50.4 181.7,60.3 182.6,76.6 183.5,83.9 184.5,96.5 185.2,115.6 185.7,92.9 186.4,76.6 187.7,73.9 189,65.8 189.9,87.5 190.4,103.8 191.3,83.9 192.2,82 193.1,111 194.1,125.5 195.3,127.3 196.6,147.2 197.7,169 198.9,185.3 199.8,172.6 200.8,163.5 201.7,165.4 202.6,159.9 203.8,141.8 205.3,123.7 206.4,113 207.5,132.8 208.5,159.9 209.6,187.1 210.3,199.8 211.4,187.1 212.5,174.4 213.6,165.4 214.7,168.1 215.8,178 217,179.8 218,172.6 219,167.2 220.1,178 221.2,190.7 222.3,203.4 223.4,212.4 224.8,202.5 226.1,216.1 227.4,225.1 228.8,226.9 230.3,220.6 231.5,221.5 233.3,230.5 234.6,222.4 236.1,225.1 237.5,228.7 239.3,233.3 241.1,229.6 243.3,232.4 246,236.9 249.6,239.6 254.2,241.4 257.8,242.3 261.1,241.4 264.1,245.4 267.8,248.7 270.5,249.2 309.2,249.6" fill="none" stroke="#624244" stroke-width="1.39" stroke-linejoin="round"/>
</g>
<g transform="translate(1843.2,499.2)" clip-path="url(#cb)">
<use href="#bands"/>
<path d="M-2,249.6 43,249.2 46.6,246.8 49.3,243.2 52.1,240.5 54.8,238.7 56.9,235.1 58.8,228.7 60.6,223.3 62,219.3 63.8,220.6 65.3,219.7 66.5,212.4 68.4,201.6 70.2,192.5 71.4,188.9 72.9,181.6 74.7,172.6 76.5,164.4 78,162.6 79.2,163.5 80.5,154.5 81.9,143.6 83.4,135.5 85.2,136.4 87,138.2 88.3,141.8 90.1,141.8 91.9,144.5 93.2,149.1 94.6,147.2 96.1,149.1 97.7,149.1 98.6,143.6 99.5,138.5 100.4,147.2 101.9,145.4 103.1,154.5 104.6,165.4 105.8,174.4 106.7,175.9 107.8,167.2 109.1,150.9 110,136.4 110.9,130.9 111.6,141.8 112.4,151.8 113.3,145.4 114.5,132.8 116,114.6 117.3,96.5 118.2,80.2 119.6,77.5 120.9,77.5 121.8,82 122.7,89.3 123.6,82 124.5,102 125.4,132.8 126.1,161.7 126.8,179.8 127.6,169 128.3,164.4 129.4,170.8 130.8,165.4 132.3,156.3 133.5,147.2 134.8,149.1 135.5,169 136.3,196.1 137,217.9 138.1,227.8 139.2,221.5 140.2,208.8 141.3,201.6 142.2,198.9 143.1,203.4 144.4,212.4 145.7,218.8 147.1,216.1 148.6,207 149.5,203.4 150.8,205.2 152.2,202.5 153.5,197.9 154.7,193.4 155.6,178 156.5,150.9 157.5,167.2 158.4,174.4 159.4,181.6 160.3,196.1 161.3,212.4 162.5,220.6 163.8,219.7 165.2,214.2 166.7,211.5 168,215.1 169.8,216.4 171.2,208.8 172.5,201.6 173.9,195.2 175.2,193.4 176.5,201.6 177.6,208.8 178.8,203.4 180.1,194.3 181.2,178 181.9,158.1 183,158.1 183.9,165.4 184.8,157.2 185.5,172.6 186.6,190.7 187.9,199.8 189.1,206.1 190.2,196.1 191.5,195.2 192.8,201.6 193.9,210.6 195.1,221.5 196.9,229.6 198.7,235.1 200.6,236.9 202.9,234.2 205.1,232 207.3,231.4 209.1,232.4 210.9,228.7 212.3,227.3 214.1,229.6 215.9,232.4 217.8,232.4 219.6,234.5 222.3,235.6 225,236.9 227.7,239.6 230.4,243.2 233.1,244.1 235.9,242.3 238,241.4 240.4,243.6 243.1,245.9 245.8,245.4 248.5,243.2 250.7,240.5 252.5,242.9 254.9,245.4 257.6,246.5 260.3,245 262.7,244.7 264.8,247.2 268.5,249.2 309.2,249.6" fill="none" stroke="#624244" stroke-width="1.39" stroke-linejoin="round"/>
</g>
<g transform="translate(0,748.8)" clip-path="url(#cb)">
<use href="#bands"/>
<path d="M-2,249.6 38.7,249.6 43.2,246.3 47.7,242.7 52.3,239.1 55.9,236 59,233.7 61.3,234.2 63.7,235.5 65.8,237.8 67.7,235.5 69.5,229.1 70.9,216.5 72.2,202 73.4,187.5 74.9,183 76.3,183.9 77.6,190.2 79.1,195.6 80.7,199.3 81.8,197.4 83,199.8 84.5,196.5 85.8,178.4 87,151.3 88.1,129.5 89.4,116.9 90.6,125 92.1,136.8 93.4,165.8 94.8,191.1 96.3,211 97.5,221 99,223.7 100.6,221 102.4,211 104.2,198.3 106,183.9 107.9,169.4 109.3,158.5 110.6,149.5 111.5,145.8 112.6,154.9 113.8,173 115.1,187.5 116.2,173 117.5,154.9 118.5,140.4 119.4,125 120.2,140.4 121.1,151.3 122.3,154 123.4,146.7 124.7,145.8 126.1,146.2 127,162.1 128,184.8 128.9,165.8 129.9,142.2 131,122.3 132.1,111.4 133,108.7 134.1,111.4 135.2,124.1 136.3,144 137.2,125.9 138.1,113.2 139,133.2 140.1,106 141.2,78.8 142.3,51.7 143.3,34.5 144.6,35.4 145.5,71.6 146.6,111.4 147.7,140.4 148.8,111.4 150,93.3 151,78.8 151.9,52.6 152.8,96.9 153.7,136.8 154.2,153.1 155.5,144 156.7,118.7 157.8,93.3 159.1,94.2 160,106 161.1,125.9 162,138.6 162.9,106 163.6,44.4 164.5,78.8 165.4,115 166.5,143.1 167.6,133.2 168.7,111.4 169.8,93.3 170.9,77 171.8,93.3 172.7,66.2 173.6,44.4 174.9,47.1 175.9,57.1 176.7,87.9 177.8,129.5 179,127.7 179.9,106 181,75.2 182.1,48.9 183,84.3 183.9,115 185,142.2 185.9,160.3 186.6,165.8 187.5,151.3 188.4,129.5 189.3,118.7 190.2,135 191.3,125.9 192.6,100.6 193.9,82.4 195,77 196.2,73.4 197.7,75.2 199.5,78.8 200.8,86.1 202,100.6 203.1,96.9 204,109.6 204.9,124.1 206.2,116.9 207.6,115 208.9,116.9 210.3,125.9 211.6,135 212.9,147.6 213.8,153.1 214.9,137.2 215.8,147.6 216.7,162.1 217.6,178.4 218.7,169.4 220.1,167.6 221.6,162.2 223,167.6 224.8,174.8 226.6,183.9 228.8,192.9 231.5,202.9 234.3,212.8 237,221 239.7,227.3 242.4,233.7 245.1,237.8 247.8,236.4 249.6,232.8 251.5,232.4 253.3,238.2 255.6,243.6 258.7,245.1 262.3,245.4 265.9,248.7 269.6,249.6 309.2,249.6" fill="none" stroke="#624244" stroke-width="1.39" stroke-linejoin="round"/>
</g>
<g transform="translate(307.2,748.8)" clip-path="url(#cb)">
<use href="#bands"/>
<path d="M-2,249.6 37.6,249.6 41.2,246.3 44.8,240.9 48.4,232.8 52.1,223.7 54.8,217.4 57.5,208.3 60.2,198.3 62.9,187.5 65.6,177.5 67.8,169.4 69.3,169.4 71.1,160.3 73.8,149.5 77.4,138.6 81,127.7 84.7,116.9 87.4,108.7 89.2,104.2 90.1,109.6 91,125 92.1,113.2 93.2,109.6 94.3,93.3 95.2,87 96.1,91.5 97,109.6 97.9,140.4 98.8,169.4 99.7,187.5 101,193.8 101.9,178.4 102.9,147.6 103.8,133.2 104.8,140.4 105.7,158.5 106.6,173.9 107.7,151.3 108.7,115 109.6,78.8 110.6,47.1 111.8,49.9 113.1,48 114.5,47.1 116,42.6 117.4,39 119.2,39.3 120.3,49.9 121.4,66.2 122.5,82.4 123.8,84.3 124.5,60.7 125.2,35.4 126.3,44.4 127.6,56.2 128.7,75.2 129.6,94.2 130.8,94.2 131.9,75.2 133,55.3 133.9,49.9 134.6,78.8 135.4,108.7 136.4,96.9 137.7,78.8 139,60.7 139.9,44.4 140.8,38.1 141.7,60.7 142.6,91.5 143.5,96.9 144.6,109.6 145.7,86.1 146.6,60.7 147.5,30.8 148.2,31.7 148.9,60.7 149.7,84.3 150.4,69.8 151.5,72.5 152.6,68 153.5,65.8 154,87.9 154.7,122.3 155.3,145.8 156.2,117.8 156.9,140.4 157.6,165.8 158.5,144 159.4,122.3 160.7,116.9 161.8,93.3 162.9,60.7 164,55.3 164.9,49.9 166,60.7 167.4,71.6 168.5,96.9 169.8,122.3 171.2,125.9 172.5,132.2 173.6,116.9 174.1,140.4 174.7,161.2 175.4,140.4 176.3,118.7 177,109.6 177.9,119.6 179,115 180.1,107.8 181,106.9 182.1,111.4 183,129.5 183.7,151.3 184.4,133.2 185.2,125 186.2,133.2 187.5,138.6 188.8,140.4 189.7,154.9 190.6,180.2 191.7,178.4 192.4,183.9 193.3,187.5 194.2,151.3 195.1,118.7 196,106 196.9,96.9 197.8,87 198.7,100.6 199.6,118.7 200.7,136.8 201.8,152.2 202.9,133.2 203.6,115 204.4,133.2 205.4,165.8 206.5,191.1 207.4,215.5 208.7,214.6 209.6,196.5 210.5,182 211.4,167.6 212.1,161.2 213,171.2 213.8,178.4 214.7,169.4 215.6,180.2 216.8,191.1 218.1,202 219,208.3 219.9,196.5 221,182 221.9,169.4 222.8,165.8 224.1,171.2 225.9,178.4 227.7,184.8 229,182 230.1,189.3 231.3,195.6 233.1,197.4 234.6,202.9 235.9,214.6 237.1,229.1 238.2,231.8 239.5,229.1 240.9,226.4 242.7,227.7 244.6,231.8 246.7,234.6 249.4,236.4 252.2,236.7 254.9,236 257.6,238.2 261.2,240.9 264.8,244.5 268.5,247.6 272.1,249.6 309.2,249.6" fill="none" stroke="#624244" stroke-width="1.39" stroke-linejoin="round"/>
</g>
<g transform="translate(614.4,748.8)" clip-path="url(#cb)">
<use href="#bands"/>
<path d="M-2,249.6 36.5,249.6 40.1,246.3 43.7,240.9 47.3,233.7 51,224.6 54.6,214.6 58.2,202.9 61.8,190.2 65.4,177.5 69.1,164.8 72.7,152.2 76.3,140.4 79.9,129.5 83.5,119.6 86.3,112.3 88.1,107.8 89.5,106 90.4,111.4 91.3,125.9 92.1,154.9 92.8,183.9 93.5,162.1 94.1,133.2 94.6,106 95.3,92.4 97.1,87 98.9,82.4 100.8,77.9 102.6,72.5 104.4,68 106.2,67.1 107.1,78.8 108,96.9 108.9,84.3 109.8,69.8 110.7,50.8 111.4,60.7 112.2,70.7 113.2,68.9 114.3,62.5 115.6,59.8 116.7,57.1 118,53.5 119.4,47.1 120.9,46.2 122.5,46.6 123.9,44.4 125.6,47.1 126.6,57.1 127.6,73.4 128.5,93.3 129.4,115 130.3,136.8 130.8,145.5 131.5,125.9 132.4,96.9 133.2,69.8 133.7,48.9 134.4,69.8 135.2,84.3 135.9,69.8 136.4,56.2 137.2,75.2 138.1,91.5 138.8,78.8 139.3,68.9 139.9,96.9 140.4,133.2 141,165.8 141.5,180.2 142.4,162.1 143.3,140.4 144.2,111.4 145.1,78.8 145.8,51.7 146.4,27.2 147.3,29 148.4,36.3 149.3,44.4 150.6,38.1 151.8,42.6 153.3,39 154.7,36.3 156.3,38.1 158.2,40.8 159.6,42.2 161.1,41.7 162,48 162.9,60.7 163.8,75.2 164.7,86.1 165.6,71.6 166.5,57.1 167.4,44.4 168.3,40.8 169.2,48 170.5,54.4 171.9,53.5 173.2,49.9 174.5,47.1 175.9,45.3 177.4,48 179.2,51.7 181,55.3 182.8,58.9 184.4,62.5 186,62.2 187.7,61.6 188.9,67.1 190.4,72.5 191.8,76.1 193.1,78.8 194,77 194.7,87.9 195.5,96.9 196.4,100.6 197.3,115 198.2,133.2 199.1,151.3 200,169.4 200.9,187.5 201.8,203.8 202.7,206.5 203.8,203.8 204.9,187.5 205.8,174.8 206.5,168.5 207.4,178.4 208.5,189.3 209.9,195.6 211.4,192.9 213,189.3 214.5,187.5 216.1,182 217.6,183.9 219,185.7 220.8,183.9 222.6,174.8 223.9,169.4 225.2,174.8 227,182 229.3,189.3 232,195.6 233.9,202.9 235.7,212.8 238.4,219.2 241.1,223.7 244.7,228.2 248.3,231.8 252.9,236.4 257.4,240 261.9,243.6 266.4,247.2 270.1,249.6 309.2,249.6" fill="none" stroke="#624244" stroke-width="1.39" stroke-linejoin="round"/>
</g>
<g transform="translate(921.6,748.8)" clip-path="url(#cb)">
<use href="#bands"/>
<path d="M-2,249.6 40.9,249.6 44.5,247.2 48.1,244.5 51.8,240.9 55,237.3 57.2,235.5 58.6,232.8 59.9,220.1 61.2,203.8 62.3,189.3 63.5,179.8 64.8,182 65.9,189.3 67.1,202 68.1,211 69.9,211.9 71.7,212.8 73.8,214.3 75.7,211.9 77.5,210.1 79.3,211 80.7,213.7 82.5,216.8 84,216.5 85.8,212.8 87.6,207.4 89.4,202 91.2,199.3 92.5,199.3 93.8,202.9 95.6,203.8 97.4,202.9 98.8,200.2 100.6,201.6 102.5,201.1 104.3,199.3 106.1,196.5 107.9,192.9 109.7,189.3 111.5,185.7 112.8,178.4 113.7,165.8 114.6,151.3 115.5,144 116.6,142.2 117.9,140.4 118.8,147.6 120.2,148.5 121.5,156.7 122.7,165.8 123.8,174.8 125.1,181.1 126.4,171.2 127.8,160.3 129.1,158.5 130.2,167.6 131.1,180.2 132.3,194.7 133.6,203.8 135.1,204.7 136.9,203.8 138.3,202.9 139.6,205.6 141,207.4 142.3,205.6 143.7,196.5 145,187.5 146.3,180.2 147.7,178.4 148.8,180.2 149.9,177.5 151.4,169.4 152.6,162.1 153.7,156.3 155,158.5 156.4,160.3 157.7,161.2 158.6,159.4 160,161.2 161.3,173 162.6,185.7 164,194.7 165.5,198.7 167.3,199.3 169.1,201.1 170.4,198.3 171.3,187.5 172.4,184.8 173.4,189.3 174.5,198.3 175.8,204.7 177.1,205.6 178.5,198.3 180,183.9 181.2,169.4 182.5,159.4 183.9,155.8 185.4,158.5 186.3,162.1 187.6,154.9 189,143.1 189.9,151.3 190.8,154.9 191.7,165.8 193,176.6 194.5,183.9 195.9,189.3 197.2,182 198.4,169.4 199.7,156.7 200.6,152.2 201.5,159.4 202.6,154 203.5,154.9 204.8,163.9 206,167.6 207.1,160.3 208,158.5 209.3,163 210.7,171.2 211.8,187.5 212.9,205.6 214.4,223.7 215.8,236.4 217.4,242.7 219.3,245.1 222,245.8 224.7,245.4 226.5,244.5 229.2,245.8 231.9,244.5 233.7,244 236.5,246.3 239.2,247.2 242.8,246.3 246.4,245.8 251,244.5 254.6,244 259.1,244.5 263.6,245.8 268.2,248.1 271.8,249.6 309.2,249.6" fill="none" stroke="#624244" stroke-width="1.39" stroke-linejoin="round"/>
</g>
<g transform="translate(1228.8,748.8)" clip-path="url(#cb)">
<use href="#bands"/>
<path d="M-2,249.6 44.3,249.6 48.8,246.9 53.4,242.7 57.9,240 62.4,237.8 66.9,234.2 71.5,230 75.1,227 77.8,224.6 80.2,223.7 82.3,224.6 85.1,223.7 87.8,222.3 90.5,221 93.2,220.1 95.9,218.6 97.7,217.9 99.5,219.7 102.3,220.1 104.4,219.2 106.8,220.4 109.1,219.2 111.3,216.8 114,217.4 116.7,216.8 119.5,216.5 122.2,216.1 124.9,214.6 127.2,211.9 129.4,207.4 131.6,202.9 133.9,198.3 135.8,195.6 137.6,194.7 139.4,196.5 141.2,199.3 143,200.2 144.8,202.9 146.6,205.6 147.9,209.2 149.3,212.8 150.8,216.5 152.1,221.9 153.5,225.5 155.1,223.7 156.9,219.2 158.8,214.6 160.2,209.2 161.7,209.2 162.9,207.4 164.2,205.6 165.3,200.2 166.5,196.5 167.8,195.6 168.9,199.3 170.2,204.7 171.4,203.8 172.5,200.2 173.8,198.3 175.1,198 176.9,199.8 178.7,201.1 180.1,203.8 181.6,208.3 183,212.8 184.7,215.5 186.1,216.8 187.4,221.9 188.6,225.1 189.7,220.1 191,205.6 192.4,192.9 193.7,186.6 195,185.7 196.4,188.4 197.9,192.9 199.7,197.4 201.9,200.2 204,202.3 206.4,203.8 208.7,204.7 210.9,205.6 213.1,208.3 215.4,209.2 217.2,213.7 219.6,219.2 221.8,224.6 224.5,230.9 227.2,235.5 230.5,238.5 233.5,240.4 237.2,241.4 240.8,241.4 244.4,242.2 248,243.6 252.6,244.5 257.1,245.8 261.6,247.6 266.1,249.6 309.2,249.6" fill="none" stroke="#624244" stroke-width="1.39" stroke-linejoin="round"/>
</g>
<g transform="translate(1536,748.8)" clip-path="url(#cb)">
<use href="#bands"/>
<path d="M-2,249.6 44.1,249.6 48.6,246.3 52.3,241.8 55.9,236.4 59.5,232.8 63.1,228.2 66.7,221.9 70.4,215.5 73.1,207.4 75.3,194.7 77.1,178.4 78.5,158.5 79.6,133.2 80.7,106 81.8,93.3 82.7,89.9 83.9,100.6 85,125.9 86.1,142.2 87,149.5 88.1,144 89.4,122.3 90.6,102.4 92.1,100.6 93.4,101.5 94.5,102.4 95.4,100.6 96.1,106 96.6,114.1 97.5,96.9 98.4,86.1 99.5,75.2 100.6,57.1 102.1,54.4 103.1,60.7 104.2,72.5 105.3,80.6 106.6,86.1 107.9,89.7 108.8,78.8 109.3,74.8 109.8,96.9 110.8,125.9 112,154.9 112.9,173 113.8,183.9 115.1,182 116,169.4 116.9,158.5 117.6,165.8 118.4,142.2 119.1,111.4 119.6,99.7 120.5,115 121.6,123.2 122.3,133.2 123.2,160.3 124.3,174.8 125.6,182 126.7,186.6 127.8,183 129.2,182 130.3,174.8 131.6,154.9 132.8,125.9 133.9,100.6 135.2,82.4 136.3,68 137.2,78.8 137.9,102.4 138.6,84.3 139.4,69.8 140.4,82.4 141.2,87.9 141.9,83.4 142.8,95.1 143.7,109.6 144.6,131.3 145.5,106 146.6,78.8 147.3,60.7 148.2,49.9 149.1,75.2 150.2,106 151.3,140.4 152.4,169.4 153.7,187.5 154.6,162.1 155.3,138.6 156.4,139.5 157.5,133.2 158.2,131.3 158.9,162.1 160,187.5 160.9,198.3 161.8,173 162.9,133.2 164,96.9 165.1,96 165.8,78.8 166.5,59.8 167.2,87.9 168.2,124.1 169.1,160.3 170,133.2 170.7,111.1 171.6,133.2 172.3,124.1 173.4,111.4 174.1,136.8 174.9,160.3 176.3,162.1 177.8,173 179,191.1 180.5,209.2 181.4,196.5 182.5,169.4 183.5,144 184.5,165.8 185.4,175.7 186.4,167.6 187.7,174.8 188.6,151.3 189.5,115 190.4,93.3 191.2,84.3 192.2,91.5 193.3,104.2 194.8,106.9 195.9,122.3 197.1,140.4 198.4,160.3 199.8,182 201.1,200.2 202.6,211 203.5,212.8 204.6,198.3 205.8,186.6 207.1,185.7 208,192.9 208.9,206.5 210,194.7 211.1,192.9 212.2,185.7 213.1,177.5 214,186.6 215.1,178.4 216.1,165.8 217.2,157.6 218.5,159.4 220.1,164.8 221.9,169.4 224.3,176.6 227,185.7 229.7,195.6 232.4,204.7 235.2,213.7 237.9,221 241.5,228.2 245.1,234.6 249.6,239.1 254.2,241.4 258.7,241.8 261.4,241.4 264.1,243.6 267.8,248.1 271.4,249.6 309.2,249.6" fill="none" stroke="#624244" stroke-width="1.39" stroke-linejoin="round"/>
</g>
<g transform="translate(1843.2,748.8)" clip-path="url(#cb)">
<use href="#bands"/>
<path d="M-2,249.6 37.6,249.6 41.2,247.6 44.8,244.5 48.4,240 52.1,234.6 54.8,231.8 56.9,230.9 58.8,229.1 60.6,228.2 62,229.5 63.5,230 65.3,225.5 67.5,219.2 69.3,212.8 71.1,210.1 72.9,210.1 74.7,206.5 76.9,201.1 78.3,196.5 79.4,182 80.5,178.4 81.6,176.6 82.8,169.4 83.7,164.3 85.2,163 86.5,169.4 87.7,167.6 89.2,173 90.4,182 91.9,191.1 93.3,200.2 95,206.5 96.8,210.1 98.6,211 100.4,210.1 102.2,206.5 103.7,200.2 104.9,191.1 106,184.8 107.3,186.6 108.6,194.7 109.6,202 110.9,202.9 112.4,194.7 114.2,183.9 116,169.4 117.8,151.3 119.2,133.2 120.3,115 121.4,96.9 122.5,78.8 123.6,60.7 124.9,52.6 125.9,60.7 126.8,78.8 127.9,96.9 129,101.5 129.7,118.7 130.7,147.6 131.4,174.8 132.1,188.4 133.2,186.6 134.1,169.4 135,147.6 135.9,131.3 136.6,124.1 137.5,131.3 138.4,142.2 139.5,162.1 140.8,182 141.9,190.2 142.8,169.4 143.5,145.8 144.4,147.6 145.7,158.5 146.8,174.8 147.7,187.5 148.6,180.2 149.8,165.8 151.1,151.3 152.2,144.9 153.1,151.3 153.8,160.3 154.4,142.2 155.3,111.4 156.2,87.9 157.1,71.6 158,67.1 158.9,78.8 160.2,96.9 161.3,115 162,127.7 162.9,109.6 163.8,97.8 164.9,97.8 165.8,104.2 166.7,111.4 167.6,115 168.5,140.4 169.4,165.8 170.7,187.5 172.1,205.6 173.4,199.3 174.7,198.3 176.1,191.1 177.6,178.4 178.8,151.3 179.7,118.7 180.6,93 181.5,109.6 182.4,133.2 183.3,160.3 184.3,178.4 184.8,189.3 185.5,162.1 186.4,140.4 187.5,138.6 188.8,139.5 189.7,162.1 190.2,187.5 191,197.4 192.4,192.9 193.5,187.5 194.6,174.8 195.7,183.9 196.9,192.9 198.2,192 199.3,202 200.6,194.7 201.8,197.4 203.3,188.4 204.5,174.8 205.6,160.3 206.5,149.5 207.4,178.4 208.3,162.1 209.6,154 210.9,154 212,137.7 213,154.9 214.1,187.5 215,207.4 215.9,221.9 217.2,220.1 218.3,205.6 219.2,196.5 220.5,194.7 221.4,178.4 222.3,169.4 223.6,176.6 224.6,185.7 225.9,192.9 227.2,202 227.7,206.5 228.6,194.7 229.5,189.3 230.8,194.7 232.2,198.3 233.7,207.4 235,214.6 236.8,218.3 238.6,222.8 240.9,228.2 243.1,231.8 245.8,234.6 248.5,237.3 251.3,238.5 254,238.2 256.7,240 259.4,239.1 261.6,240 263.9,243.6 266.6,247.2 270.3,249.6 309.2,249.6" fill="none" stroke="#624244" stroke-width="1.39" stroke-linejoin="round"/>
</g>
<g transform="translate(0,998.4)" clip-path="url(#cb)">
<use href="#bands"/>
<path d="M-2,249.6 44.1,249 48.6,247.5 53.2,246.3 55.9,244.8 58.2,241.2 60,234 61.9,224.9 63.7,215.9 65.5,208.6 67.3,205.9 69.1,206.8 70.9,202.3 72.5,201 74,205 75.8,212.2 77.6,217.7 78.9,219.1 80.3,214 82.1,207.7 83.9,202.8 85.4,205.9 87,210.4 88.5,212.2 89.4,195.9 90.6,183.3 92.1,179.6 93.5,180.5 94.8,174.2 96.1,168.8 97.2,167 98.4,168.8 99.9,176 101.2,183.3 102.4,189.1 103.9,183.3 105.3,179.6 106.6,178.7 107.9,179.3 108.9,176.9 110.2,176 111.5,175.1 112.9,172.4 114.2,161.5 115.3,152.5 116.5,147.9 117.8,146.7 119.3,147 120.5,152.5 122,161.5 123.2,168.8 124.2,171.5 125.1,167 126.1,167.9 127,174.2 128.3,186.9 129.6,201.4 130.7,212.2 131.9,210.4 133.2,197.7 134.3,188.7 135,186.9 135.9,194.1 137,203.2 138.3,203.2 139.5,194.1 140.6,186 141.5,192.3 142.8,203.2 143.7,212.2 144.8,221.3 145.9,220.9 147,214 147.9,209.5 149.1,211.3 150.6,212.2 151.9,213.1 153.1,203.2 154.2,194.1 155.5,189.6 156.7,189.1 157.8,193.2 159.1,194.1 160.4,196.8 161.5,197.7 162.7,192.3 164,185.1 165.1,178.7 166.3,176 167.2,183.3 168.2,192.3 169.1,202.3 170.3,203.2 171.8,200.5 173.2,202.3 174.5,201.4 175.9,198.7 177.8,196.8 179,200.5 180.3,206.8 181.4,214 182.6,223.1 183.5,230.3 184.6,226.7 185.7,214 186.8,205 188.1,203.2 189.3,206.8 190.4,215.9 191.7,220.4 193,224 194.4,228.5 196.2,234.9 198.4,238.5 200.8,239.8 203.1,239.4 205.3,239.8 207.5,242.1 209.3,243.9 211.1,244.5 213.4,243 215.8,240.3 218,237.6 220.1,236.7 222.5,234 224.3,233.6 226.1,236.7 227.9,237.6 229.7,236.7 231.5,238.5 233.9,238.5 236.1,236.7 238.2,237.6 240.6,239 242.9,237.2 245.1,236.1 247.8,237.6 250.2,239.4 252.4,242.1 254.5,240.3 256,239 258.2,241.2 260.5,243 263.2,243.4 265.9,244.5 268.7,245.7 271.4,247.5 275,249 309.2,249.6" fill="none" stroke="#624244" stroke-width="1.39" stroke-linejoin="round"/>
</g>
<g transform="translate(307.2,998.4)" clip-path="url(#cb)">
<use href="#bands"/>
<path d="M-2,249.6 35.8,249 39.4,244.8 43,237.6 46.6,228.5 50.2,221 53.9,212.7 57.5,200.7 61.1,188.3 64.7,175.2 68.4,159.8 72,147 75.6,136.7 79.2,125.9 82.8,114.4 86.5,106.4 90.1,98.3 93.7,90.9 96.4,83.7 98.2,76.4 99.5,72.8 100.6,76.4 101.5,72.8 102.4,67.4 103.7,71.9 104.8,73.7 105.7,85.5 106.6,96.3 107.3,83.7 108.2,75.5 109.1,83.7 110,63.7 110.9,45.6 112.4,44.7 113.8,43.8 114.9,52 116,65.6 116.9,71.9 118.2,71.3 119.1,87.3 120,101.8 121.1,121.7 122,150.7 122.7,132.6 123.4,118.1 124.1,122.6 124.9,132.6 125.8,125.3 126.8,103.6 127.9,78.2 129,46.5 129.9,50.2 130.8,59.2 131.7,66.5 132.6,49.3 133.4,32 134.1,33 134.8,47.4 135.7,49.3 136.6,43.8 137.5,34.8 138.1,49.3 138.6,78.2 139.2,115.4 139.7,96.3 140.2,81.8 141,90.9 141.7,107.2 142.4,92.7 143.1,83.7 143.7,71.9 144.2,87.3 144.8,130.7 145.3,96.3 145.9,54.7 146.6,78.2 147.5,105.4 148.4,136.2 149.3,156.1 150.2,132.6 151.1,109 152.2,102.7 153.5,103.6 154.7,112.6 156.2,125.3 157.3,133.5 158.4,132.6 159.3,144.3 160,139.8 160.7,127.1 161.3,141.6 162.3,165.2 163.4,174.2 164.7,186 165.8,170.6 167.1,156.1 168.1,150.7 169.2,149.8 170.1,132.6 171,114.4 172.1,96.3 173,83.7 174.3,80 175.6,83.7 176.5,95.4 177.2,78.2 177.9,69.2 178.8,81.8 179.5,93.6 180.3,74.6 181.2,58.3 182.1,51.1 183,78.2 183.7,114.4 184.4,154.3 185.2,188.7 186.2,196.8 187,168.8 187.9,132.6 188.8,96.3 189.7,76.4 190.6,70.1 192,74.6 193.3,83.7 194.6,87.3 196,92.7 197.5,93.6 198.7,101.8 200,110.8 201.1,132.6 202,154.3 202.9,174.2 203.6,187.8 204.7,187.8 205.6,193.2 206.5,206.8 207.8,223.1 209.1,234 210.1,239.4 211.6,239.4 212.7,223.1 213.8,195.9 214.7,177.8 215.6,169.7 216.5,167 217.4,172.4 218.7,186.9 219.9,201.4 221.4,214 223.2,228.5 225,237.6 226.8,241.2 228.6,242.1 230.1,239.4 231.3,232.2 232.6,223.1 234.1,217.7 235.9,216.8 237.7,217.7 239.5,219.5 241.3,223.1 243.1,227.6 244.9,232.2 246.7,236.7 248.5,241.2 250,245.7 250.9,247.5 251.8,243 253.1,234.9 254.3,229.8 255.8,230.3 257.6,234.9 259.4,239.4 262.1,243.9 265.7,247.5 269.4,249 309.2,249.6" fill="none" stroke="#624244" stroke-width="1.39" stroke-linejoin="round"/>
</g>
<g transform="translate(614.4,998.4)" clip-path="url(#cb)">
<use href="#bands"/>
<path d="M-2,249.6 33.7,249 37.4,245.9 41,243.9 43.7,243 45.5,240.3 47.3,237.6 49.1,237.2 50.6,239 51.9,239.4 53.1,234 54.2,223.1 55.5,212.2 56.7,205 57.8,206.8 58.7,212.2 59.6,218.6 60.6,214 61.5,206.8 62.7,199.6 64,195.9 65.1,190.5 66.3,186 67.6,184.7 69.1,186.9 70.3,194.1 71.4,198.7 73,199.6 74.9,201.4 76.3,206.8 77.8,212.2 79,219.5 80.3,224 81.7,225.8 83.2,220.4 84.3,219.5 85,224.9 85.9,214 86.8,186.9 87.7,161.5 88.6,154.3 89.5,153.4 90.4,158.8 91.2,161.5 92.1,150.7 93.3,139.8 94.4,134.4 95.5,131.6 96.6,133.5 97.7,132.6 98.6,141.6 99.5,156.1 100.4,166.1 101.3,168.8 102.4,176.9 103.5,172.4 104.4,150.7 105.3,123.5 106,136.2 106.7,139.8 107.5,114.4 108.2,90.9 108.9,110.8 109.8,128.9 110.7,147 111.6,157.9 112.5,164.2 113.6,157.9 114.7,145.2 115.6,167 116.5,190.5 117.2,161.5 118,132.6 118.9,141.6 119.8,154.3 120.7,160.6 121.6,147 122.7,127.1 123.8,134.4 124.8,139.8 125.7,141.6 126.6,163.3 127.9,186.9 129.2,205 130.3,215.9 131.2,220.4 132.4,214 133.7,197.7 134.8,177.8 136.1,141.6 137.2,105.4 138.2,69.2 139.3,45.6 140.2,69.2 141.1,92.7 142.4,96.3 143.3,114.4 144.2,141.6 144.9,157.9 145.7,132.6 146.4,109.9 147.3,118.1 148.4,128.9 149.6,141.6 150.9,150.7 152,168.8 152.7,161.5 153.6,153.4 154.5,158.8 155.3,136.2 156,108.1 156.9,114.4 157.8,103.6 158.5,69.2 159.2,46.5 160,69.2 160.7,100 161.4,128.9 162.1,149.8 162.9,132.6 163.8,105.4 164.7,78.2 165.6,56.5 166.5,46.5 167.4,60.1 168.1,70.1 169,63.7 169.9,54.7 171,51.1 172.3,52 173.6,53.8 174.5,78.2 175.4,110.8 176.3,138 177.2,125.3 178.1,96.3 179,69.2 180.1,54.7 181,50.7 182.1,54.7 183.1,71 184.1,96.3 184.8,132.6 185.5,168.8 186.4,197.7 187.5,214.9 188.6,201.4 189.7,177.8 190.8,150.7 191.7,132.6 192.2,127.5 193.1,147 194,167 194.7,177.8 195.5,161.5 196.2,143.4 196.9,154.3 197.8,168.8 198.9,186.9 200,201.4 200.9,205.9 202,203.2 203.1,186.9 204,177.8 204.9,174.2 205.8,159.7 206.7,143.4 207.6,128 208.7,127.1 209.6,139.8 210.3,159.7 211.2,183.3 212.1,205 213.2,221.3 214.3,215.9 215.4,208.6 216.6,205.9 218.1,205 219.7,202.3 221.2,195.9 222.6,185.1 223.9,174.2 224.8,167.9 225.7,179.6 226.6,197.7 227.5,214 228.8,223.1 230.2,221.3 232,219.5 233.9,217.7 235.7,214.9 237.5,213.4 238.9,218.6 240.2,224.9 241.5,232.2 242.9,236.7 244.4,234.9 245.6,228.5 246.9,223.5 248,222.4 249.2,226.7 250.5,234 252,238.5 253.8,240.3 256.5,242.1 260.1,243.9 263.7,245.7 268.3,247.5 273.7,249 309.2,249.6" fill="none" stroke="#624244" stroke-width="1.39" stroke-linejoin="round"/>
</g>
<g transform="translate(921.6,998.4)" clip-path="url(#cb)">
<use href="#bands"/>
<path d="M-2,249.6 30.9,249 35.5,247.5 40,244.8 44.5,241.2 48.1,237.6 51.8,232.2 54.5,226.7 56.8,219.5 58.6,210.4 59.9,201.4 61.2,192.3 62.6,190.5 64.1,183.3 65.3,174.2 66.6,169.7 68.1,172.4 69.5,174.2 70.4,181.4 71.3,186 72.6,181.4 73.8,176.9 74.9,179.6 76.2,183.3 77.5,185.1 78.9,184.2 80.4,186 81.6,186 82.9,179.6 84,172.4 85.3,171.5 86.2,174.2 87.2,170.6 88.3,164.2 89.8,158.8 91,152.1 92.5,153.4 93.8,154.3 94.7,158.8 95.6,164.2 96.7,154.3 97.6,158.8 98.5,164.2 99.4,163.3 100.3,168.8 101.6,174.2 102.5,168.8 103.4,157.9 104.3,145.2 105.5,139.8 106.6,137.6 107.5,150.7 108.4,163.3 109.3,168.8 110.6,161.5 111.9,150.7 113,141.6 114,135.8 115.1,141.6 116.4,143.4 117.5,150.7 118.4,158.8 119.3,157 120.2,167 121.5,177.8 122.7,190.5 124.2,200.5 125.5,204.1 126.5,197.7 127.8,185.1 129.1,176 130.5,174.6 132,176.9 133.6,181.4 135.1,184.2 136.5,180.5 138.1,178.7 139.6,177.8 140.8,183.3 142.3,190.5 143.7,196.8 145.2,202.3 146.5,199.6 147.7,195.9 149.2,199.6 150.4,192.3 151.7,183.3 152.8,179.6 153.7,178.7 154.6,186.9 155.9,197.7 157.1,208.6 158.6,215.9 160,221.3 161.9,224.9 163.5,222.2 164.9,210.4 166.2,192.3 167.3,176 168.2,171.5 169.5,173.3 170.5,181.4 171.8,185.1 173.4,185.1 175.3,182.4 177.1,179.6 178.9,176 180.3,178.7 181.8,177.8 182.9,183.3 183.9,192.3 185.4,199.6 186.7,205 188.5,206.8 190.3,208.6 191.6,207.7 192.6,212.2 193.9,219.5 195.2,224.9 196.6,230.3 198.4,227.6 200.2,226.7 202.1,227.6 203.9,228.2 205.3,226.7 207.1,228.5 208.4,234 209.7,238.5 211.1,243 212.9,243 214.7,241.2 216.5,242.1 218.7,241.2 221.1,242.1 223.4,243 225.6,243.4 228.3,243 231,241.2 233.7,239.4 236.1,239 238.3,240.3 241,240.8 243.3,242.7 245.5,242.1 247.7,243.9 250,246.3 252.8,247.5 255.5,246.6 258.2,245.7 260.9,243.9 262.7,242.1 264.5,241.8 266.3,243 268.2,244.8 270,247.5 272.7,249 309.2,249.6" fill="none" stroke="#624244" stroke-width="1.39" stroke-linejoin="round"/>
</g>
<g transform="translate(1228.8,998.4)" clip-path="url(#cb)">
<use href="#bands"/>
<path d="M-2,249.6 33.4,249 38,245.7 41.6,241.2 45.2,234 48.8,224 52.5,216.4 56.1,205.4 59.7,193.1 63.3,180.5 66.9,166.4 70.6,150.7 74.2,141.6 77.8,132.6 81.4,122.6 84.1,114.4 86.3,108.1 87.4,118.1 88.7,130.7 89.9,138 91,142.5 91.8,123.5 92.5,96.3 93,78.5 93.7,90.9 94.5,74.6 95.2,57.2 96.5,60.1 97.7,61.9 98.6,62.8 99.4,83.7 100.1,105.4 101,118.1 101.7,132.6 102.3,143.4 103,114.4 103.7,90.9 104.6,96.3 105.5,102.7 106.4,109 107.3,100 108.1,90.5 108.8,110.8 109.5,128.9 110.4,136.2 111.3,150.7 112,190.5 112.8,177.8 113.7,161.5 114.4,177.8 115.1,200.5 115.8,177.8 116.7,154.3 117.7,132.6 118.6,101.8 119.3,77.3 120,96.3 120.9,118.1 121.8,141.6 122.7,165.2 123.6,180.5 124.4,150.7 125.1,112.6 126.2,101.8 127.1,114.4 128,150.7 128.9,183.3 129.6,200.5 130.7,190.5 132,176 133,175.1 134.1,186.9 135.2,201.4 136.3,206.8 137.4,186.9 138.5,159.7 139.6,136.2 140.6,126.2 141.6,150.7 142.5,177.8 143.5,204.1 144.8,197.7 146.1,183.3 147.2,165.2 148.4,150.7 149.3,147 150.2,132.6 151.5,105.4 152.6,87.3 153.5,60.1 154,37.5 154.6,78.2 155.1,118.1 155.9,108.1 156.6,109 157.5,136.2 158.4,165.2 159.3,190.5 160.2,212.2 161.7,213.1 163.1,212.2 164.7,214 166,213.7 167.5,208.6 168.9,203.2 170.2,204.1 171.4,210.4 172.5,214.9 173.4,217.7 174.7,210.4 176.1,194.1 177.4,177.8 178.7,165.2 179.8,161.5 180.9,163.3 181.9,174.2 182.8,165.2 183.7,147 184.7,118.1 185.6,96.3 186.6,92.7 187.7,100 188.6,123.5 189.5,147 190.6,150.7 191.5,156.1 192.3,162.4 193.2,141.6 194.3,125.3 195.5,112.6 196.8,103.6 198.2,100 199.5,101.8 200.4,114.4 201.3,136.2 202.2,154.3 203.3,168.8 204.2,179.6 204.9,184.2 206,177.8 206.9,167 207.7,162.4 208.4,172.4 209.1,178.7 210,177.8 210.9,186.9 212,199.6 213.1,208.6 214.2,209.5 215.4,205.9 216.7,205 218.2,208.6 219.6,206.8 220.5,213.1 221.4,205 222.3,194.1 223.2,183.3 224.1,172.4 225,165.3 225.9,174.2 226.8,181.4 227.9,188.7 229,197.7 230.3,205 231.4,201.4 232.6,197.7 233.5,195 234.5,202.3 235.4,212.2 236.3,219.5 237.7,218.6 239,216.8 240.2,221.3 241.7,225.8 243.1,230.3 245.3,234.9 248,238.5 251.7,240.3 255.3,242.1 258.9,243 262.5,245.2 266.1,246.3 269.8,247.5 273.4,249 309.2,249.6" fill="none" stroke="#624244" stroke-width="1.39" stroke-linejoin="round"/>
</g>
<g transform="translate(1536,998.4)" clip-path="url(#cb)">
<use href="#bands"/>
<path d="M-2,249.6 35.1,249 38.7,245.7 42.3,241.2 45.9,234.9 48.6,230.3 51.4,229.4 53.2,225.8 55,220.4 56.8,216.8 58.6,215.9 60,208.6 61.3,200.5 62.6,193.2 63.7,198.7 64.6,203.2 65.8,202.3 66.7,203.2 67.3,186.9 68.2,176 69.5,165.2 71.3,154.3 73.4,147 75.8,139.8 78.5,132.6 81.2,126.2 83.9,119 86.7,110.8 89.4,103.6 91.2,102.7 93,98.1 94.8,96.3 96.6,91.8 98.4,86.4 99.9,80.9 101.2,79.1 102.1,85.5 103,80 103.9,86.4 104.8,81.8 105.7,74.6 106.9,68.3 108.4,66.5 109.7,64.6 110.8,63.7 112,68.3 113.5,69.2 114.4,83.7 115.1,104.5 115.8,81.8 116.5,62.8 117.6,58.3 118.7,52.9 119.6,48.3 120.7,52.9 122,57.4 123.4,65.6 124.7,78.2 125.6,96.3 126.5,114.4 127.4,136.2 128.3,151.6 129.2,152.1 130.1,132.6 131,110.8 132.1,91.8 132.8,103.6 133.7,119.9 134.7,136.2 135.6,154.3 136.5,172.4 137.9,170.2 139.2,168.8 140.4,169.7 141.9,165.2 143.3,154.3 144.3,132.6 145.2,112.6 145.9,132.6 146.8,150.7 147.5,167 148.8,163.3 149.7,147 150.6,125.3 151.1,108.1 151.9,122.6 152.4,110.8 153.5,100.9 154.2,109 154.9,108.1 155.5,112.6 156.4,109.9 156.9,132.6 157.8,161.5 158.7,176 159.6,184.2 160.5,176 161.8,167 162.9,166.1 164,174.2 165.1,183.3 166.3,192.3 167.6,199.6 169.1,203.2 170.1,195.9 171.2,177.8 172.1,157.9 173,141.6 173.8,137.1 174.9,147 175.6,165.2 176.7,186.9 177.8,195.9 179.2,195 180.5,190.5 182.1,188.7 183.2,184.2 184.1,181.4 185,183.3 186.3,178.7 187.5,176 188.6,181.4 189.9,185.1 190.8,194.1 191.7,201.4 193,209.5 194.4,210.4 195.9,205 197.7,200.5 199.5,196.8 201.7,194.1 203.5,193.2 204.9,195 206.2,193.2 207.6,187.8 208.9,195.9 210.3,205 211.6,215.9 213.4,223.1 214.7,219.5 216.1,212.2 217.6,208.6 219,210.4 220.7,213.1 223,213.1 224.3,216.8 226.1,221.3 227.9,220.4 229.2,216.8 230.6,216.2 232.1,218.6 233.3,222.2 235.2,224 237,225.8 238.8,225.8 240.6,224 242.4,224 244.2,226.7 246.6,230.3 248.7,234.9 250.6,237.6 252.4,239 254.5,237.6 256.9,239.4 259.2,243 261.4,243.9 264.1,243.4 266.8,245.2 269.6,247 273.2,249 309.2,249.6" fill="none" stroke="#624244" stroke-width="1.39" stroke-linejoin="round"/>
</g>
<g transform="translate(1843.2,998.4)" clip-path="url(#cb)">
<use href="#bands"/>
<path d="M-2,249.6 31.2,249 34.9,247.6 37.6,246.3 40.3,247.5 43,243.9 45.4,239.4 47.2,235.8 48.4,234.9 50.2,236.1 51.7,237.6 53.3,234 55.1,230.3 56.9,226.7 58.8,224 60.2,220.4 61.7,219.5 62.9,215.9 63.8,210.4 65.3,212.2 66.5,213.1 67.8,211.3 69.3,207.7 70.3,197.7 71.4,186.9 72.5,182.4 74.3,181.4 76.1,181.1 77.4,183.3 78.3,184.2 79.6,177.8 81,170.6 81.9,159.7 82.8,148.9 84.1,138 85.2,128.9 86.5,126.2 87.9,124.4 89.2,128.9 90.3,138 91.4,145.2 92.4,147.4 93.7,146.1 94.6,139.8 95.5,127.1 96.4,124.4 97.7,126.2 98.6,134.4 99.7,144.3 101,151.6 101.9,147 102.8,141.6 103.7,138 104.9,143.4 106.4,148.9 108.2,148.9 109.1,141.6 110.2,130.7 111.3,121.7 112.4,114.4 113.3,101.8 114.2,90.9 115.1,87.3 116.3,86.7 117.3,96.3 118.2,105.4 119.2,109.9 120.3,105.4 121.8,100 123,95.4 124.1,93.6 125.4,96.3 126.3,100 127.2,94.5 128.1,89.5 129,98.1 129.9,103.6 130.8,104.5 131.7,110.8 132.6,119.9 133.5,128 134.8,127.1 135.9,119.9 137,105.4 138.1,92.7 139,85.5 139.9,83.7 140.8,89.1 141.7,93.6 142.6,92.7 143.5,96.3 144.4,100.9 145.3,96.3 146.4,98.1 147.1,110.8 148,127.1 148.9,119.9 150,115.4 151.1,101.8 152.2,87.3 153.5,78.2 154.4,69.2 155.1,65.6 156.2,72.8 157.5,76.4 158.5,83.7 159.4,92.7 160.3,93.6 161.3,110.8 162,132.6 162.7,138 163.8,136.2 164.9,145.2 166.1,154.3 167.4,161.5 168.5,167 169.4,169.7 170.7,161.5 172.1,147 173.4,132.6 174.7,121.7 175.7,117.2 176.6,116.3 177.6,128.9 178.8,141.6 180.1,151.6 181.2,156.1 182.4,154.3 183.7,143.4 185.2,138 186.4,136.2 187.5,141.6 188.8,150.7 190.2,161.5 191.5,170.6 192.8,177.8 194.2,183.3 195.7,181.4 196.9,177.8 198.2,168.8 199.3,156.1 200.6,148.9 201.5,150.7 202.4,161.5 203.3,176 204.7,186.9 206,192.3 207.8,196.8 209.6,199.6 210.9,197.7 212.3,196.8 213.8,199.6 215,201.4 216.3,198.7 217.8,196.8 219,195 220.1,200.5 221.4,202.3 222.8,205 224.1,207.7 225.4,208.6 226.4,202.3 227.7,192.3 229,184.2 230.1,192.3 231.3,201.4 232.6,210.4 234.1,218.6 235.9,218.6 237.3,221.3 239.1,225.8 240.9,231.2 242.7,234.9 244.6,235.8 246.7,234 248.9,234.9 251.3,236.7 253.6,237.6 255.8,236.1 258,238.5 260.3,239.4 263,239.8 265.2,240.3 267.6,243.9 270.3,247.5 273.9,249 309.2,249.6" fill="none" stroke="#624244" stroke-width="1.39" stroke-linejoin="round"/>
</g>
<path d="M1536.5,0.5H1843.5V250.5H1536.5Z M1843.5,0.5H2150.5V250.5H1843.5Z M0.5,250.5H307.5V499.5H0.5Z M307.5,250.5H614.5V499.5H307.5Z M614.5,250.5H922.5V499.5H614.5Z M922.5,250.5H1229.5V499.5H922.5Z M1229.5,250.5H1536.5V499.5H1229.5Z M1536.5,250.5H1843.5V499.5H1536.5Z M1843.5,250.5H2150.5V499.5H1843.5Z M0.5,499.5H307.5V749.5H0.5Z M307.5,499.5H614.5V749.5H307.5Z M614.5,499.5H922.5V749.5H614.5Z M922.5,499.5H1229.5V749.5H922.5Z M1229.5,499.5H1536.5V749.5H1229.5Z M1536.5,499.5H1843.5V749.5H1536.5Z M1843.5,499.5H2150.5V749.5H1843.5Z M0.5,749.5H307.5V998.5H0.5Z M307.5,749.5H614.5V998.5H307.5Z M614.5,749.5H922.5V998.5H614.5Z M922.5,749.5H1229.5V998.5H922.5Z M1229.5,749.5H1536.5V998.5H1229.5Z M1536.5,749.5H1843.5V998.5H1536.5Z M1843.5,749.5H2150.5V998.5H1843.5Z M0.5,998.5H307.5V1248.5H0.5Z M307.5,998.5H614.5V1248.5H307.5Z M614.5,998.5H922.5V1248.5H614.5Z M922.5,998.5H1229.5V1248.5H922.5Z M1229.5,998.5H1536.5V1248.5H1229.5Z M1536.5,998.5H1843.5V1248.5H1536.5Z M1843.5,998.5H2150.5V1248.5H1843.5Z" fill="none" stroke="#d2d2d2" stroke-width="1"/>
<g id="labels" style="will-change:transform">
<text x="1544.8" y="21" textLength="111.2" lengthAdjust="spacingAndGlyphs">2017-04-01</text>
<text x="1833.9" y="21" text-anchor="end" textLength="54.3" lengthAdjust="spacingAndGlyphs">35.26</text>
<text x="1852.0" y="21" textLength="111.2" lengthAdjust="spacingAndGlyphs">2017-04-02</text>
<text x="2141.1" y="21" text-anchor="end" textLength="54.3" lengthAdjust="spacingAndGlyphs">36.97</text>
<text x="8.8" y="270" textLength="111.2" lengthAdjust="spacingAndGlyphs">2017-04-03</text>
<text x="297.9" y="270" text-anchor="end" textLength="54.3" lengthAdjust="spacingAndGlyphs">38.00</text>
<text x="316.0" y="270" textLength="111.2" lengthAdjust="spacingAndGlyphs">2017-04-04</text>
<text x="605.1" y="270" text-anchor="end" textLength="54.3" lengthAdjust="spacingAndGlyphs">15.25</text>
<text x="623.2" y="270" textLength="111.2" lengthAdjust="spacingAndGlyphs">2017-04-05</text>
<text x="912.3" y="270" text-anchor="end" textLength="54.3" lengthAdjust="spacingAndGlyphs">35.14</text>
<text x="930.4" y="270" textLength="111.2" lengthAdjust="spacingAndGlyphs">2017-04-06</text>
<text x="1219.5" y="270" text-anchor="end" textLength="54.3" lengthAdjust="spacingAndGlyphs">46.77</text>
<text x="1237.6" y="270" textLength="111.2" lengthAdjust="spacingAndGlyphs">2017-04-07</text>
<text x="1526.7" y="270" text-anchor="end" textLength="54.3" lengthAdjust="spacingAndGlyphs">39.17</text>
<text x="1544.8" y="270" textLength="111.2" lengthAdjust="spacingAndGlyphs">2017-04-08</text>
<text x="1833.9" y="270" text-anchor="end" textLength="54.3" lengthAdjust="spacingAndGlyphs">48.46</text>
<text x="1852.0" y="270" textLength="111.2" lengthAdjust="spacingAndGlyphs">2017-04-09</text>
<text x="2141.1" y="270" text-anchor="end" textLength="54.3" lengthAdjust="spacingAndGlyphs">51.35</text>
<text x="8.8" y="520" textLength="111.2" lengthAdjust="spacingAndGlyphs">2017-04-10</text>
<text x="297.9" y="520" text-anchor="end" textLength="54.3" lengthAdjust="spacingAndGlyphs">31.00</text>
<text x="316.0" y="520" textLength="111.2" lengthAdjust="spacingAndGlyphs">2017-04-11</text>
<text x="605.1" y="520" text-anchor="end" textLength="54.3" lengthAdjust="spacingAndGlyphs">43.55</text>
<text x="623.2" y="520" textLength="111.2" lengthAdjust="spacingAndGlyphs">2017-04-12</text>
<text x="912.3" y="520" text-anchor="end" textLength="54.3" lengthAdjust="spacingAndGlyphs">22.86</text>
<text x="930.4" y="520" textLength="111.2" lengthAdjust="spacingAndGlyphs">2017-04-13</text>
<text x="1219.5" y="520" text-anchor="end" textLength="54.3" lengthAdjust="spacingAndGlyphs">32.85</text>
<text x="1237.6" y="520" textLength="111.2" lengthAdjust="spacingAndGlyphs">2017-04-14</text>
<text x="1526.7" y="520" text-anchor="end" textLength="54.3" lengthAdjust="spacingAndGlyphs">15.71</text>
<text x="1544.8" y="520" textLength="111.2" lengthAdjust="spacingAndGlyphs">2017-04-15</text>
<text x="1833.9" y="520" text-anchor="end" textLength="54.3" lengthAdjust="spacingAndGlyphs">40.24</text>
<text x="1852.0" y="520" textLength="111.2" lengthAdjust="spacingAndGlyphs">2017-04-16</text>
<text x="2141.1" y="520" text-anchor="end" textLength="54.3" lengthAdjust="spacingAndGlyphs">21.93</text>
<text x="8.8" y="769" textLength="111.2" lengthAdjust="spacingAndGlyphs">2017-04-17</text>
<text x="297.9" y="769" text-anchor="end" textLength="54.3" lengthAdjust="spacingAndGlyphs">37.23</text>
<text x="316.0" y="769" textLength="111.2" lengthAdjust="spacingAndGlyphs">2017-04-18</text>
<text x="605.1" y="769" text-anchor="end" textLength="54.3" lengthAdjust="spacingAndGlyphs">45.29</text>
<text x="623.2" y="769" textLength="111.2" lengthAdjust="spacingAndGlyphs">2017-04-19</text>
<text x="912.3" y="769" text-anchor="end" textLength="54.3" lengthAdjust="spacingAndGlyphs">51.36</text>
<text x="930.4" y="769" textLength="111.2" lengthAdjust="spacingAndGlyphs">2017-04-20</text>
<text x="1219.5" y="769" text-anchor="end" textLength="54.3" lengthAdjust="spacingAndGlyphs">20.65</text>
<text x="1237.6" y="769" textLength="111.2" lengthAdjust="spacingAndGlyphs">2017-04-21</text>
<text x="1526.7" y="769" text-anchor="end" textLength="54.3" lengthAdjust="spacingAndGlyphs">12.67</text>
<text x="1544.8" y="769" textLength="111.2" lengthAdjust="spacingAndGlyphs">2017-04-22</text>
<text x="1833.9" y="769" text-anchor="end" textLength="54.3" lengthAdjust="spacingAndGlyphs">36.66</text>
<text x="1852.0" y="769" textLength="111.2" lengthAdjust="spacingAndGlyphs">2017-04-23</text>
<text x="2141.1" y="769" text-anchor="end" textLength="54.3" lengthAdjust="spacingAndGlyphs">28.95</text>
<text x="8.8" y="1019" textLength="111.2" lengthAdjust="spacingAndGlyphs">2017-04-24</text>
<text x="297.9" y="1019" text-anchor="end" textLength="54.3" lengthAdjust="spacingAndGlyphs">16.13</text>
<text x="316.0" y="1019" textLength="111.2" lengthAdjust="spacingAndGlyphs">2017-04-25</text>
<text x="605.1" y="1019" text-anchor="end" textLength="54.3" lengthAdjust="spacingAndGlyphs">44.80</text>
<text x="623.2" y="1019" textLength="111.2" lengthAdjust="spacingAndGlyphs">2017-04-26</text>
<text x="912.3" y="1019" text-anchor="end" textLength="54.3" lengthAdjust="spacingAndGlyphs">33.95</text>
<text x="930.4" y="1019" textLength="111.2" lengthAdjust="spacingAndGlyphs">2017-04-27</text>
<text x="1219.5" y="1019" text-anchor="end" textLength="54.3" lengthAdjust="spacingAndGlyphs">20.40</text>
<text x="1237.6" y="1019" textLength="111.2" lengthAdjust="spacingAndGlyphs">2017-04-28</text>
<text x="1526.7" y="1019" text-anchor="end" textLength="54.3" lengthAdjust="spacingAndGlyphs">35.10</text>
<text x="1544.8" y="1019" textLength="111.2" lengthAdjust="spacingAndGlyphs">2017-04-29</text>
<text x="1833.9" y="1019" text-anchor="end" textLength="54.3" lengthAdjust="spacingAndGlyphs">35.12</text>
<text x="1852.0" y="1019" textLength="111.2" lengthAdjust="spacingAndGlyphs">2017-04-30</text>
<text x="2141.1" y="1019" text-anchor="end" textLength="54.3" lengthAdjust="spacingAndGlyphs">36.83</text>
</g>
</svg></body></html>
